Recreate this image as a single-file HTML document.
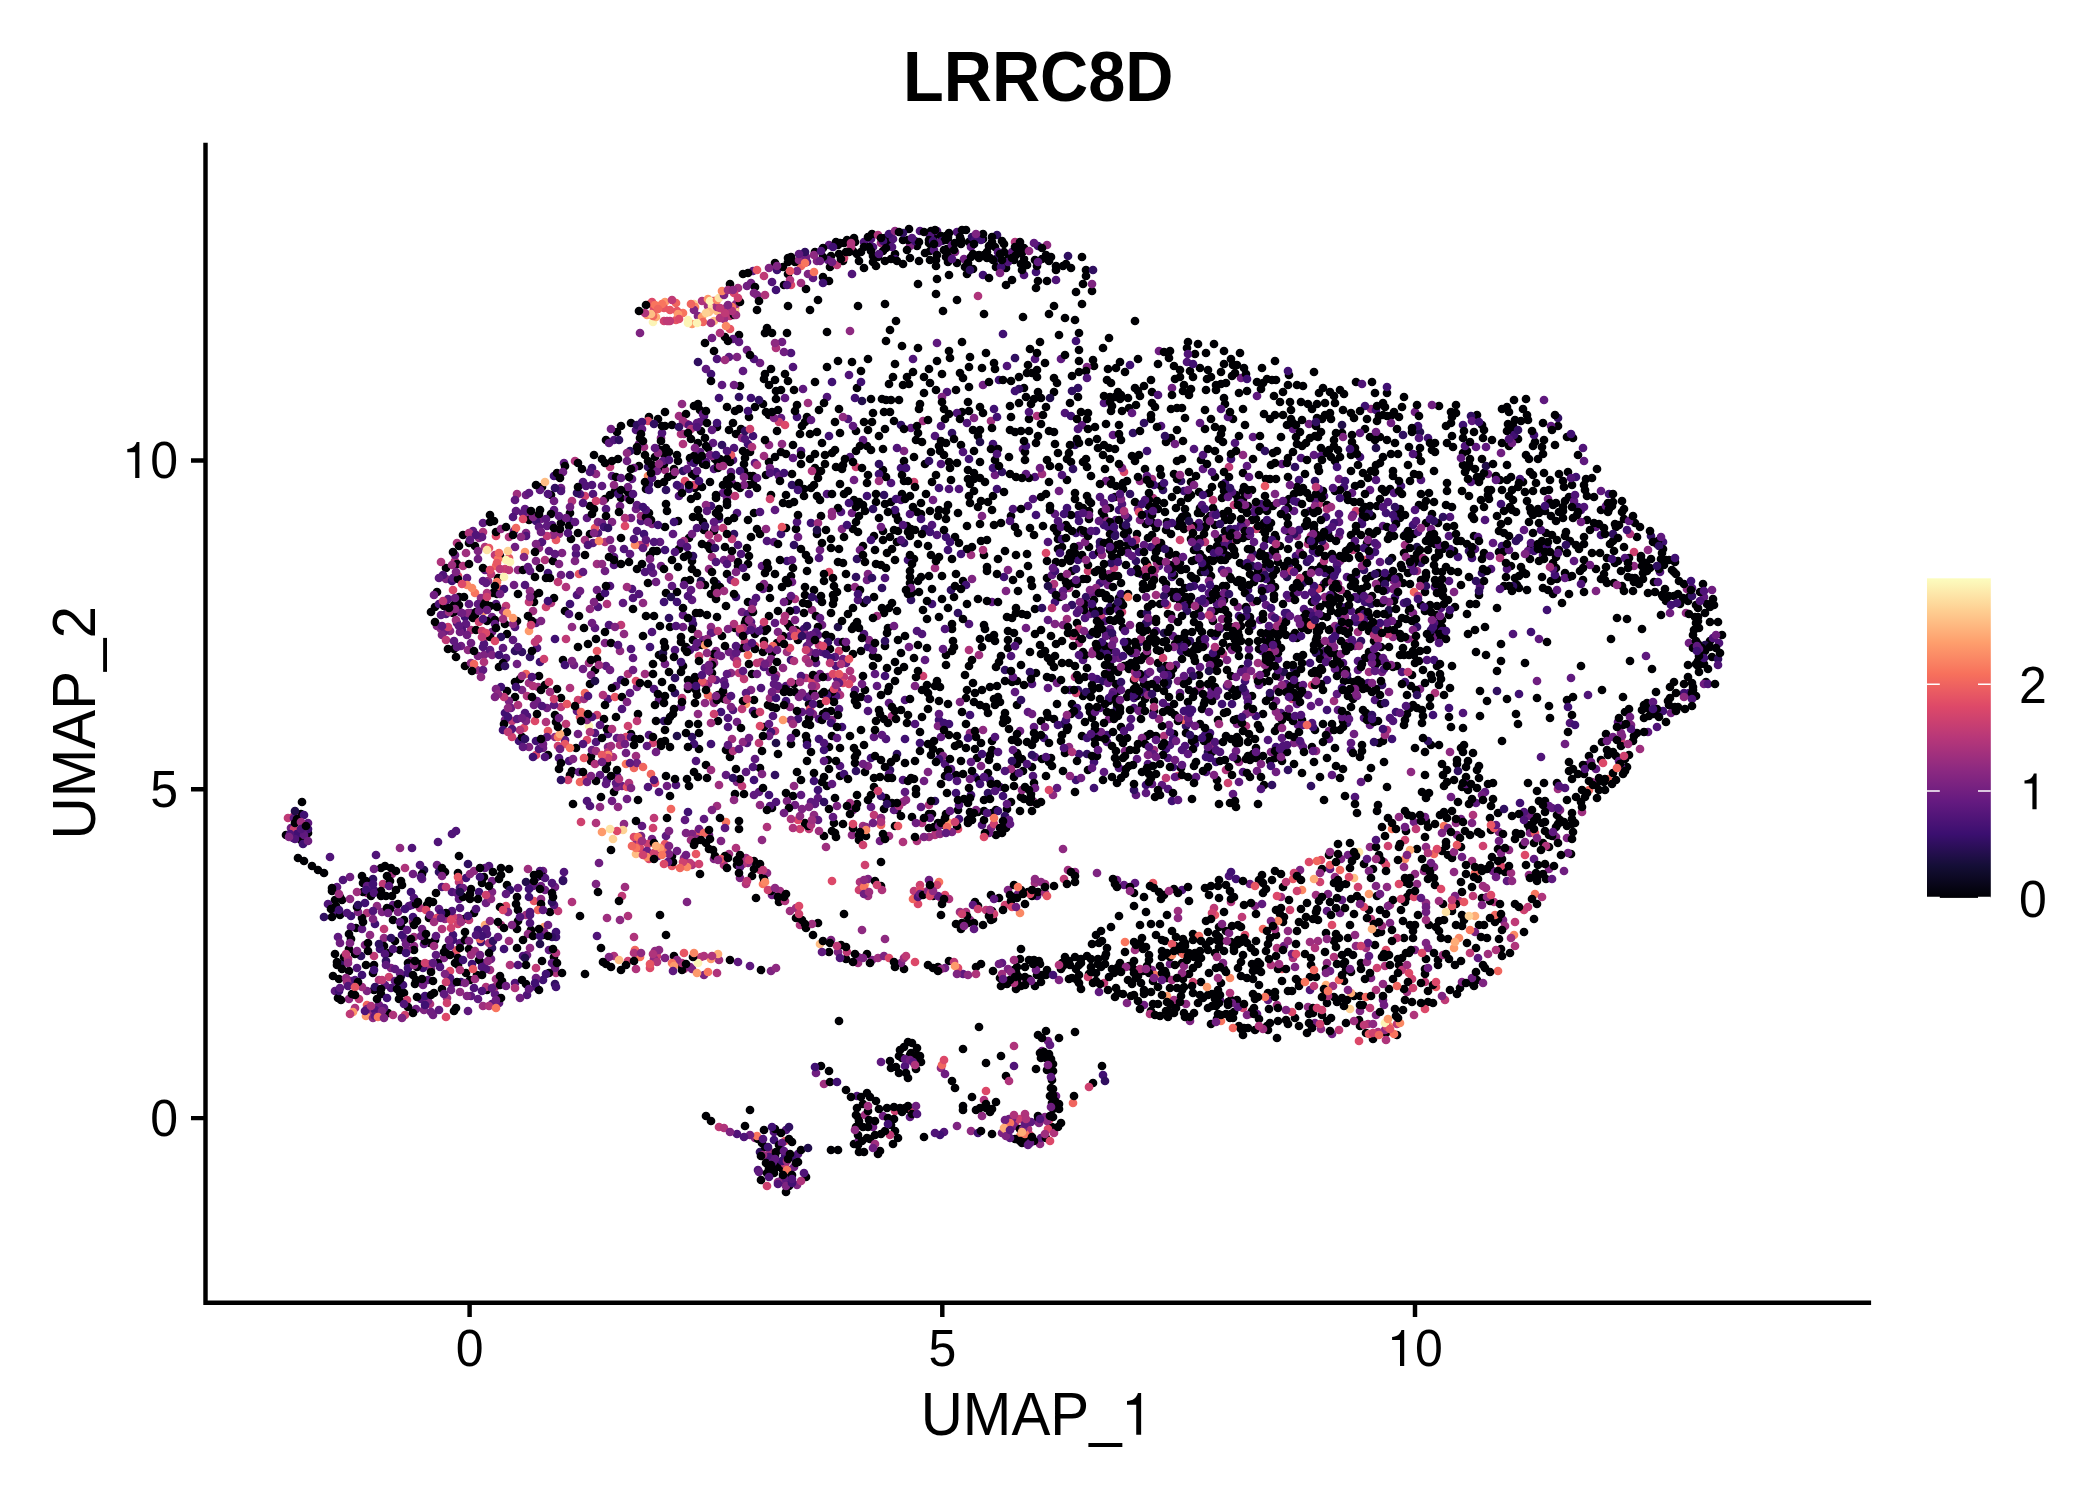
<!DOCTYPE html>
<html><head><meta charset="utf-8">
<style>
html,body{margin:0;padding:0;background:#fff;}
body{width:2100px;height:1500px;overflow:hidden;font-family:"Liberation Sans",sans-serif;}
svg{display:block}
text{font-family:"Liberation Sans",sans-serif;fill:#000}
</style></head><body>
<svg width="2100" height="1500" viewBox="0 0 2100 1500">
<defs>
<linearGradient id="mg" x1="0" y1="1" x2="0" y2="0">
<stop offset="0" stop-color="#000004"/><stop offset="0.1" stop-color="#140E36"/><stop offset="0.2" stop-color="#3B0F70"/><stop offset="0.3" stop-color="#641A80"/><stop offset="0.4" stop-color="#8C2981"/><stop offset="0.5" stop-color="#B73779"/><stop offset="0.6" stop-color="#DE4968"/><stop offset="0.7" stop-color="#F7705C"/><stop offset="0.8" stop-color="#FE9F6D"/><stop offset="0.9" stop-color="#FECF92"/><stop offset="1" stop-color="#FCFDBF"/>
</linearGradient>
</defs>
<rect width="2100" height="1500" fill="#fff"/>
<text x="1038.3" y="101" font-size="70" font-weight="bold" text-anchor="middle" transform="translate(1038.3 0) scale(0.953 1) translate(-1038.3 0)">LRRC8D</text>
<g id="pts" fill="none" stroke-linecap="round" stroke-width="8.7">
<path stroke="#401072" d="M1100 546h0M1195 744h0M1103 1075h0M1076 533h0M1286 619h0M1130 365h0M411 892h0M1222 570h0M774 1140h0M1501 504h0M548 573h0M797 417h0M1225 483h0M1321 656h0M1097 679h0M1232 704h0M1396 712h0M1215 636h0M1326 517h0M1147 514h0M901 468h0M1401 486h0M819 599h0M1252 626h0M1248 590h0M1299 480h0M717 584h0M1663 542h0M798 719h0M1684 693h0M1310 663h0M1360 457h0M1463 425h0M1406 534h0M868 647h0M1245 681h0M1663 711h0M1147 674h0M1172 801h0M1184 491h0M1216 762h0M592 468h0M479 892h0M1609 494h0M1428 438h0M505 713h0M1166 749h0M423 968h0M1096 735h0M970 715h0M920 743h0M465 617h0M1044 738h0M1347 723h0M946 537h0M1344 487h0M975 777h0M905 739h0M999 380h0M519 741h0M466 878h0M1313 551h0M1226 555h0M956 793h0M540 662h0"/>
<path stroke="#e75664" d="M672 866h0M676 320h0M580 717h0M534 901h0M509 558h0M1364 560h0M579 574h0M785 1141h0"/>
<path stroke="#300f60" d="M1516 541h0M911 600h0M760 1152h0M1072 605h0M1253 554h0M925 529h0M1075 445h0M1163 490h0M1382 685h0M1190 641h0M1361 641h0M373 879h0M904 543h0M1005 670h0M1303 583h0M856 771h0M1086 597h0M555 984h0M996 259h0M1186 726h0M1651 536h0M1078 690h0M361 956h0M790 1170h0"/>
<path stroke="#fa8864" d="M1514 935h0M1020 1136h0M735 308h0"/>
<path stroke="#feac77" d="M1475 916h0M865 884h0"/>
<path stroke="#fd9a6b" d="M1369 894h0M484 611h0M692 324h0M1478 869h0M1167 996h0"/>
<path stroke="#6f1e80" d="M732 483h0M658 856h0M1079 546h0M1159 351h0M561 575h0M1488 474h0M742 612h0M1119 658h0M1280 677h0M1009 1119h0M543 871h0M486 903h0M1315 1023h0M665 664h0M983 385h0M637 687h0M1530 816h0M1340 913h0M737 722h0M883 1116h0M1493 871h0M1537 681h0M1289 598h0M460 612h0M772 895h0M471 613h0M816 1073h0M1548 499h0M924 781h0M995 475h0M1056 1096h0M1102 619h0M1501 453h0M1105 679h0M291 828h0M1461 819h0M1328 657h0M578 734h0M1415 412h0M1671 713h0M1276 701h0M1257 771h0M1048 1041h0M416 1009h0M1339 536h0M1383 1000h0M543 748h0"/>
<path stroke="#ce416f" d="M895 1111h0M546 607h0M512 737h0M856 467h0M585 496h0M914 482h0M713 660h0M1405 840h0M1020 1119h0M1621 740h0M389 977h0M1015 1123h0M1388 846h0M657 956h0M920 885h0M294 829h0"/>
<path stroke="#f8755e" d="M1535 894h0M475 593h0M663 851h0M939 882h0"/>
<path stroke="#501478" d="M841 512h0M1131 719h0M786 686h0M1085 618h0M537 648h0M791 353h0M864 242h0M598 607h0M749 494h0M937 535h0M1035 477h0M609 625h0M734 448h0M827 397h0M1347 577h0M1289 567h0M756 598h0M827 494h0M1281 713h0M1228 516h0M1325 651h0M932 525h0M457 623h0M1480 587h0M1083 660h0M391 988h0M1107 742h0M748 614h0M945 764h0M733 710h0M552 525h0M1148 764h0M1182 890h0M1449 536h0M1229 876h0M782 1180h0M1196 691h0M570 575h0M1052 590h0M871 239h0M1159 566h0M649 735h0M636 430h0M1543 555h0M598 533h0M1362 520h0M840 766h0M917 631h0M421 982h0M1375 700h0M1570 723h0M641 521h0M1243 772h0M632 589h0M515 983h0M1297 695h0M903 780h0M1033 776h0M608 699h0M885 578h0M738 545h0M1310 511h0"/>
<path stroke="#af347b" d="M367 913h0M922 823h0M795 599h0M746 884h0M1037 416h0M471 630h0M761 662h0M628 674h0M572 501h0M455 561h0M515 988h0M978 296h0M917 841h0M1376 990h0M1226 770h0M806 678h0M724 865h0M683 444h0M1473 815h0M1414 639h0M934 234h0M603 695h0M1368 1024h0M1293 958h0M556 973h0M1334 957h0"/>
<path stroke="#8e2a81" d="M590 609h0M970 733h0M477 670h0M659 950h0M384 938h0M941 1068h0M539 548h0M481 598h0M527 515h0M982 1116h0M906 800h0M450 631h0M414 946h0M541 899h0M1317 609h0M637 842h0M555 737h0M1327 963h0M479 538h0M349 999h0M1686 613h0M377 906h0M1456 823h0M1338 584h0M768 663h0M518 570h0M1600 781h0M1426 847h0M1426 903h0M441 629h0M1239 762h0M1200 687h0M1393 637h0M708 684h0"/>
<path stroke="#210e4a" d="M1164 633h0M701 581h0M1342 425h0M424 870h0M1208 752h0M1222 538h0M1420 432h0M526 882h0"/>
<path stroke="#9e2f7e" d="M687 424h0M526 915h0M1157 563h0M1174 1000h0M589 663h0M863 826h0M392 874h0M881 243h0M644 447h0M369 1014h0M935 568h0M665 470h0M1154 750h0M858 963h0M1558 789h0M725 696h0M641 516h0M770 1152h0M923 421h0M787 652h0M1079 643h0M1035 883h0M1366 948h0M960 912h0M528 869h0M679 416h0M746 858h0M1358 632h0"/>
<path stroke="#000004" d="M1270 1023h0M904 461h0M673 475h0M772 653h0M1047 677h0M594 509h0M363 883h0M853 529h0M863 505h0M308 833h0M1237 695h0M1089 519h0M896 1067h0M1563 481h0M1035 986h0M1134 961h0M1633 591h0M434 993h0M1261 633h0M1271 523h0M1228 615h0M1377 656h0M1405 882h0M1452 666h0M1252 696h0M1423 716h0M1663 597h0M992 242h0M1473 753h0M1343 410h0M1497 671h0M1017 764h0M484 877h0M1152 586h0M991 920h0M1185 943h0M1114 973h0M946 257h0M831 711h0M1190 371h0M1535 442h0M1144 684h0M1291 410h0M1174 889h0M1365 429h0M1110 599h0M966 698h0M1439 685h0M470 980h0M1254 1008h0M1319 652h0M1283 632h0M1456 925h0M892 603h0M1361 969h0M1321 668h0M1237 737h0M789 1186h0M1395 1009h0M1434 630h0M1430 443h0M1117 558h0M842 469h0M1383 996h0M673 862h0M836 467h0M685 649h0M1198 649h0M743 451h0M1231 359h0M769 588h0M1271 582h0M1147 736h0M1325 403h0M1218 990h0M1050 1096h0M1325 952h0M1185 946h0M678 521h0M1512 490h0M929 814h0M1219 898h0M1316 977h0M917 1055h0M1558 426h0M1156 774h0M1462 892h0M819 410h0M791 576h0M822 602h0M1572 819h0M1118 691h0M695 488h0M1369 652h0M1478 879h0M1181 570h0M1472 516h0M710 482h0M691 439h0M1369 910h0M917 246h0M897 810h0M1622 586h0M1479 925h0M1587 496h0M728 521h0M507 634h0M362 918h0M562 973h0M864 745h0M1208 1008h0M1038 392h0M988 502h0M1537 904h0M1452 507h0M1167 593h0M1219 927h0M1011 802h0M898 640h0M1170 988h0M1289 900h0M477 975h0M930 251h0M947 793h0M1543 588h0M1479 595h0M1250 617h0M967 604h0M590 506h0M828 760h0M1310 438h0M1481 477h0M1597 783h0M1121 395h0M885 646h0M844 243h0M1070 965h0M1052 1080h0M1123 628h0M1258 725h0M809 704h0M1043 415h0M823 714h0M1257 382h0M1543 454h0M821 516h0M1082 736h0M1116 368h0M986 353h0M1477 415h0M1400 634h0M1231 579h0M986 1063h0M1601 510h0M824 777h0M717 427h0M1501 661h0M1154 711h0M836 761h0M1420 448h0M1098 570h0M1635 523h0M1530 559h0M515 697h0M1276 676h0M978 812h0M949 462h0M666 776h0M1101 967h0M763 652h0M1226 931h0M1024 259h0M349 949h0M1209 895h0M730 284h0M414 950h0M1183 939h0M542 487h0M694 772h0M1087 579h0M957 463h0M1441 938h0M995 641h0M829 769h0M1344 981h0M1244 565h0M1383 741h0M1250 574h0M1266 566h0M1047 561h0M1698 661h0M1329 574h0M1329 642h0M1415 644h0M1137 569h0M1613 494h0M711 594h0M1401 638h0M1308 627h0M1175 946h0M1230 647h0M667 818h0M928 693h0M1359 612h0M482 883h0M1704 664h0M792 1142h0M838 1150h0M1567 553h0M850 736h0M895 1131h0M638 714h0M1182 963h0M1313 510h0M1140 925h0M1381 647h0M1332 554h0M980 1108h0M1014 786h0M1014 970h0M1128 544h0M639 466h0M987 258h0M1017 753h0M814 485h0M857 705h0M1623 725h0M1015 1139h0M1019 403h0M1268 668h0M1167 978h0M1217 780h0M1215 477h0M339 979h0M1032 745h0M980 524h0M698 682h0M1181 952h0M1191 539h0M1525 492h0M1166 974h0M1439 551h0M726 750h0M1521 567h0M617 432h0M764 727h0M883 531h0M1412 1002h0M821 1066h0M1273 506h0M1034 535h0M912 593h0M878 257h0M1214 344h0M534 595h0M1456 819h0M1110 673h0M1145 699h0M1201 460h0M718 721h0M741 429h0M1462 915h0M1338 671h0M1517 585h0M459 597h0M1135 546h0M1322 670h0M1377 896h0M1456 534h0M807 741h0M1171 534h0M301 840h0M1059 1038h0M939 510h0M1666 560h0M1024 388h0M889 244h0M1194 622h0M890 246h0M631 734h0M1019 977h0M790 692h0M752 674h0M1211 633h0M1103 780h0M1443 590h0M1128 642h0M1106 954h0M1075 882h0M843 261h0M1442 620h0M1351 972h0M1606 734h0M1583 580h0M745 1126h0M1311 958h0M578 533h0M1499 552h0M1208 932h0M1491 830h0M880 777h0M1021 890h0M807 417h0M1710 641h0M1283 392h0M598 892h0M1363 473h0M355 954h0M779 1145h0M1326 603h0M470 899h0M1706 682h0M1141 614h0M1192 741h0M1615 563h0M934 236h0M687 779h0M1617 618h0M1225 520h0M1563 507h0M718 464h0M1233 1018h0M1443 549h0M945 776h0M1054 528h0M445 872h0M1464 920h0M1008 640h0M1283 922h0M911 529h0M1451 423h0M1070 553h0M1294 693h0M561 698h0M494 521h0M349 971h0M1439 745h0M776 708h0M594 455h0M550 912h0M485 603h0M1531 547h0M831 256h0M880 1151h0M1106 424h0M831 1150h0M726 606h0M507 885h0M764 379h0M954 597h0M1398 624h0M1012 682h0M779 902h0M1278 647h0M1140 943h0M700 410h0M1260 447h0M737 860h0M867 446h0M793 445h0M824 836h0M970 484h0M897 611h0M591 756h0M1712 657h0M1351 899h0M1625 712h0M474 913h0M1231 739h0M1627 767h0M1461 748h0M1497 516h0M1278 562h0M832 697h0M1379 855h0M1221 983h0M1567 826h0M1381 681h0M1343 721h0M1265 640h0M961 445h0M351 939h0M785 689h0M910 1055h0M958 810h0M991 895h0M1021 665h0M392 896h0M1162 995h0M891 400h0M1172 497h0M1511 430h0M990 687h0M1034 783h0M1447 527h0M961 240h0M1653 542h0M1011 516h0M886 798h0M1480 691h0M1664 565h0M796 529h0M1351 413h0M1389 647h0M1484 581h0M1000 978h0M1039 961h0M735 794h0M1127 697h0M858 1117h0M1394 412h0M948 608h0M531 930h0M878 1154h0M606 440h0M1275 871h0M1059 335h0M738 562h0M1332 724h0M430 943h0M1658 541h0M318 870h0M749 485h0M670 747h0M690 580h0M1426 501h0M1409 953h0M691 499h0M703 522h0M1200 640h0M928 744h0M973 683h0M1112 650h0M879 1109h0M1152 535h0M1455 607h0M833 595h0M1355 486h0M1107 651h0M930 699h0M1368 778h0M1038 436h0M1116 684h0M1275 731h0M1096 981h0M1366 579h0M1089 547h0M1647 571h0M1618 561h0M810 725h0M1302 446h0M1545 801h0M1378 573h0M1098 628h0M772 808h0M1166 666h0M689 538h0M1508 521h0M914 559h0M1357 813h0M1251 948h0M1302 773h0M876 1101h0M1201 572h0M1236 645h0M1334 997h0M936 390h0M1413 705h0M987 252h0M615 491h0M1062 547h0M602 459h0M1508 424h0M1205 888h0M464 919h0M493 593h0M973 430h0M1666 601h0M1302 720h0M1242 669h0M1572 485h0M1484 473h0M774 1173h0M1252 623h0M1207 658h0M664 464h0M1685 709h0M1077 623h0M518 910h0M738 566h0M947 249h0M1581 802h0M435 607h0M1144 994h0M1703 584h0M891 502h0M1260 556h0M1547 642h0M475 546h0M730 757h0M775 457h0M1587 520h0M782 1167h0M1467 544h0M719 509h0M1228 556h0M1565 536h0M1446 639h0M870 1139h0M1450 990h0M1022 253h0M1614 583h0M668 477h0M1116 988h0M540 568h0M1088 413h0M565 611h0M356 928h0M1674 682h0M1047 578h0M1106 598h0M1472 887h0M1634 736h0M1351 586h0M856 431h0M1569 497h0M856 522h0M1460 988h0M1288 458h0M852 629h0M1629 709h0M1264 785h0M1578 455h0M1559 474h0M915 761h0M1299 686h0M1009 257h0M1373 869h0M637 451h0M1223 643h0M1249 734h0M962 712h0M1504 586h0M1275 758h0M854 748h0M1155 558h0M1072 571h0M588 644h0M1277 1038h0M1214 669h0M1348 938h0M695 703h0M1438 637h0M1519 576h0M1149 573h0M1308 404h0M1320 607h0M1511 477h0M1015 774h0M1507 465h0M747 548h0M779 895h0M1556 557h0M1443 596h0M1208 995h0M1412 432h0M861 697h0M1028 365h0M908 481h0M1029 478h0M1005 551h0M1111 411h0M1298 568h0M1147 768h0M1336 908h0M930 511h0M1119 598h0M830 649h0M994 363h0M855 242h0M1115 497h0M1111 480h0M1252 520h0M1231 676h0M1035 739h0M640 739h0M466 973h0M841 945h0M1331 629h0M1196 579h0M902 494h0M541 904h0M1506 577h0M1215 451h0M961 929h0"/>
<path stroke="#bf3a76" d="M469 920h0M682 698h0M512 721h0M566 724h0M775 731h0M704 683h0M288 818h0M506 606h0M1079 629h0M1319 504h0M610 467h0M739 673h0M536 968h0M459 882h0M1114 568h0M535 642h0M495 555h0M566 639h0"/>
<path stroke="#dc4869" d="M1309 862h0M535 721h0M812 680h0M655 783h0M458 576h0M587 740h0M918 904h0M694 485h0M791 285h0M1386 950h0M506 906h0"/>
<path stroke="#fed194" d="M735 311h0"/>
<path stroke="#5f197e" d="M1109 667h0M351 927h0M335 991h0M1136 795h0M1015 692h0M385 985h0M600 775h0M807 262h0M1013 750h0M1247 697h0M1311 706h0M337 887h0M1216 696h0M602 486h0M1143 679h0M1485 792h0M1308 695h0M692 600h0M1358 670h0M963 974h0M818 798h0M753 271h0M746 772h0M1153 754h0M750 966h0M1551 426h0M525 509h0M587 518h0M1028 712h0M683 615h0M1383 526h0M660 542h0M536 623h0M863 440h0M1646 656h0M1176 665h0M609 443h0M1574 501h0M549 950h0M466 624h0M1104 772h0M1315 500h0M1704 597h0M448 599h0M992 602h0M540 490h0M614 557h0M393 905h0M774 684h0M911 428h0M565 740h0M1124 885h0M762 566h0M846 663h0M499 1003h0M775 510h0M1282 464h0M1549 806h0M1135 883h0M1544 400h0M452 984h0M780 1166h0M1152 784h0M759 792h0"/>
<path stroke="#7e2481" d="M1008 969h0M960 702h0M484 655h0M842 529h0M1376 1015h0M1277 689h0M358 912h0M1475 932h0M740 878h0M751 690h0M1499 832h0M398 912h0M1008 890h0M737 782h0M605 643h0M365 945h0M1237 724h0M1420 689h0M1229 933h0M1328 894h0M1190 1021h0M716 651h0M868 574h0M1238 607h0M1014 1126h0M714 859h0M1109 719h0M509 701h0M1142 738h0M957 1126h0M1556 837h0M1434 867h0M665 958h0M529 747h0M910 246h0M526 533h0M1055 624h0M828 677h0M1393 589h0M508 912h0M698 316h0M1097 873h0M832 720h0"/>
<path stroke="#f0665f" d="M367 1005h0M1183 954h0M1475 873h0M1589 790h0M942 1065h0M913 899h0"/>
<path stroke="#febe85" d="M636 854h0M717 311h0M545 482h0"/>
<path stroke="#bf3a76" d="M1234 505h0M383 884h0M1064 879h0M1371 919h0M1104 983h0M1205 542h0M1459 901h0M558 911h0M1214 908h0M914 891h0M890 1135h0M374 956h0M1425 982h0M730 316h0M1388 634h0"/>
<path stroke="#9e2f7e" d="M1390 905h0M1045 884h0M509 941h0M1405 545h0M892 716h0M719 960h0M936 831h0M729 854h0M483 1006h0M636 756h0M414 937h0M1257 677h0M1483 886h0M1135 950h0M865 1115h0M1281 897h0M1369 672h0M780 891h0M529 683h0M776 675h0M712 557h0M796 908h0M708 306h0M1069 588h0M533 611h0M367 893h0M466 553h0"/>
<path stroke="#8e2a81" d="M1371 409h0M1687 589h0M1265 665h0M528 934h0M866 827h0M852 835h0M1308 1007h0M1251 558h0M885 939h0M655 951h0M559 534h0M1325 597h0M1093 651h0M903 802h0M468 613h0M1315 506h0M620 920h0M971 1131h0M459 918h0M488 581h0M1276 712h0M970 920h0M736 304h0M474 871h0M1634 566h0M649 479h0M714 663h0M1075 872h0M731 673h0M1332 643h0M1034 802h0M1321 1029h0M769 445h0M812 610h0M731 558h0M624 824h0"/>
<path stroke="#af347b" d="M903 842h0M684 969h0M1385 966h0M551 603h0M785 901h0M1494 902h0M607 604h0M510 965h0M1232 541h0M1308 544h0M702 301h0M572 902h0M575 461h0M1542 897h0M379 980h0M1025 1114h0M966 912h0M485 547h0M692 865h0M1014 1046h0M806 659h0M1325 546h0"/>
<path stroke="#5f197e" d="M781 418h0M471 996h0M617 738h0M1324 584h0M1002 963h0M1241 672h0M1257 396h0M1539 639h0M729 357h0M1476 803h0M1247 466h0M647 854h0M700 452h0M828 260h0M1618 722h0M486 583h0M1319 702h0M1294 511h0M564 463h0M468 1011h0M813 278h0M1113 435h0M1187 604h0M816 663h0M691 462h0M533 886h0M874 737h0M763 628h0M937 343h0M941 737h0M731 472h0M1370 725h0M495 994h0M1257 1014h0M853 426h0M483 581h0M1233 794h0M517 719h0M459 899h0M1048 620h0M894 810h0M1370 490h0M492 1004h0M523 513h0M1621 767h0M633 658h0M422 879h0M1246 670h0M1269 636h0M577 711h0M1099 992h0M829 245h0M424 944h0M436 955h0M1342 900h0M818 635h0M1196 777h0M807 646h0M746 693h0M802 712h0M460 943h0M1596 769h0M428 980h0M1113 692h0"/>
<path stroke="#fcf4b6" d="M653 322h0"/>
<path stroke="#6f1e80" d="M1066 608h0M455 555h0M634 468h0M1059 491h0M545 890h0M1613 737h0M611 429h0M1172 388h0M1704 684h0M537 701h0M747 286h0M445 631h0M784 352h0M1106 481h0M822 625h0M782 342h0M622 786h0M820 550h0M1093 594h0M517 664h0M1433 637h0M1020 731h0M873 1127h0M1348 855h0M843 659h0M1042 1051h0M1309 424h0M378 1014h0M505 720h0M462 613h0M652 839h0M1482 795h0M1108 585h0M351 981h0M491 959h0M527 955h0M379 1005h0M437 865h0M515 547h0M541 886h0M703 640h0M1339 479h0M1426 907h0"/>
<path stroke="#feac77" d="M485 925h0M1326 985h0M718 954h0M656 317h0"/>
<path stroke="#7e2481" d="M1371 978h0M1127 1003h0M1360 1011h0M492 892h0M858 957h0M1263 572h0M641 836h0M1369 871h0M1294 743h0M1341 859h0M991 828h0M1130 625h0M1567 838h0M444 958h0M704 975h0M1277 503h0M1125 751h0M1348 643h0M791 720h0M1503 920h0M596 884h0M817 261h0M1255 906h0M721 841h0M1355 646h0M872 960h0M431 969h0M1340 561h0M810 652h0M522 690h0M1251 671h0M692 969h0M446 579h0M1428 948h0M1549 869h0M808 274h0M813 714h0M1462 982h0"/>
<path stroke="#dc4869" d="M640 848h0M640 843h0M1245 935h0M958 829h0M1525 855h0M1399 884h0M1030 1135h0M496 536h0M1321 860h0M446 1017h0M636 681h0M1124 472h0"/>
<path stroke="#300f60" d="M693 624h0M890 770h0M1134 790h0M1718 659h0M1272 785h0M1263 598h0M510 890h0M1315 481h0M722 445h0M1421 563h0M675 693h0M885 641h0M1111 563h0M648 467h0M1103 650h0M343 963h0M1316 653h0M683 471h0M1294 669h0M1117 708h0M952 433h0M997 235h0M794 545h0M1311 786h0M958 613h0M1482 573h0M1090 635h0M882 588h0M692 737h0M1187 611h0"/>
<path stroke="#501478" d="M355 980h0M714 469h0M1333 559h0M523 956h0M1269 556h0M293 838h0M1441 608h0M654 542h0M1248 702h0M482 963h0M758 1170h0M577 595h0M1105 621h0M376 855h0M1037 896h0M527 995h0M1058 521h0M1028 506h0M839 709h0M421 999h0M1134 708h0M1191 671h0M1287 595h0M775 1165h0M595 733h0M1343 663h0M452 834h0M476 909h0M1014 1066h0M934 250h0M1435 587h0M639 594h0M753 711h0M688 596h0M1660 572h0M614 565h0M848 419h0M554 905h0M1340 532h0M412 848h0M947 392h0M957 232h0M793 367h0M1356 575h0M1245 692h0M1119 768h0M918 897h0M1262 651h0M737 513h0M409 906h0M1376 480h0M1035 757h0M1116 520h0M637 531h0M1368 683h0M1588 695h0M1070 690h0M747 743h0M850 457h0M1351 611h0M580 494h0M905 1066h0M622 709h0M489 866h0M617 776h0M569 761h0M838 642h0M1206 772h0M1185 515h0M733 460h0M1324 496h0"/>
<path stroke="#fa8864" d="M1325 993h0M648 476h0"/>
<path stroke="#401072" d="M570 521h0M644 534h0M1395 597h0M1285 613h0M971 795h0M939 720h0M1375 666h0M297 834h0M1121 594h0M754 780h0M915 241h0M453 935h0M1134 698h0M1036 272h0M1236 879h0M1140 642h0M776 472h0M1004 577h0M819 739h0M777 270h0M711 506h0M736 597h0M481 942h0M1341 617h0M1172 577h0M1079 715h0M1118 562h0M719 398h0M1100 583h0M791 660h0M692 620h0M554 476h0M1231 459h0M1222 704h0M1601 535h0M1181 651h0M748 444h0M1325 573h0M908 560h0M1458 557h0M804 629h0M1418 426h0M504 949h0M1239 616h0M1215 512h0M1376 410h0M1078 560h0M796 610h0M719 519h0M871 758h0M1067 508h0M308 829h0M1094 762h0M649 484h0M847 525h0M362 975h0M1123 656h0M1502 546h0"/>
<path stroke="#fde2a5" d="M712 306h0"/>
<path stroke="#e75664" d="M1215 915h0M595 528h0M597 651h0M565 744h0M1436 987h0M665 844h0M702 681h0M556 540h0M925 892h0M1153 883h0M651 855h0"/>
<path stroke="#fed194" d="M1469 916h0"/>
<path stroke="#210e4a" d="M776 743h0M1417 547h0M1705 645h0M1486 466h0M1284 672h0M1064 724h0M401 976h0"/>
<path stroke="#f8755e" d="M683 313h0M1392 829h0M763 884h0"/>
<path stroke="#f0665f" d="M496 566h0M634 768h0M526 674h0M801 266h0M635 950h0M676 303h0M1498 971h0M1608 779h0M671 809h0"/>
<path stroke="#fd9a6b" d="M708 299h0M783 720h0M602 832h0M711 959h0"/>
<path stroke="#ce416f" d="M578 700h0M1243 1008h0M1356 511h0M597 715h0M648 844h0M713 699h0M844 258h0M1483 846h0M505 569h0M653 743h0M1180 540h0M1212 913h0M839 651h0"/>
<path stroke="#000004" d="M389 953h0M1183 979h0M822 782h0M1038 1116h0M1259 1019h0M1340 606h0M1110 459h0M1452 436h0M1006 1076h0M692 629h0M1370 437h0M1404 655h0M1607 750h0M1247 978h0M1661 615h0M1334 440h0M983 239h0M1294 594h0M1275 361h0M1160 966h0M1552 535h0M1165 941h0M1532 810h0M723 485h0M1360 502h0M487 990h0M982 690h0M961 761h0M1589 756h0M1326 969h0M1215 525h0M1693 687h0M1310 977h0M653 551h0M1212 1006h0M952 1081h0M1331 653h0M1327 1021h0M786 1192h0M835 422h0M1307 1033h0M1403 1010h0M1675 562h0M1276 479h0M1414 534h0M1259 985h0M1573 697h0M984 555h0M714 351h0M1675 707h0M1089 501h0M740 386h0M655 457h0M1208 370h0M1037 975h0M902 475h0M857 388h0M1331 579h0M982 368h0M1567 700h0M693 838h0M1081 530h0M642 564h0M875 730h0M1109 448h0M1449 717h0M986 707h0M1651 559h0M1158 509h0M1519 588h0M1429 867h0M744 464h0M1166 678h0M1054 432h0M1684 584h0M1126 646h0M1584 485h0M767 563h0M1374 722h0M1411 559h0M732 551h0M1399 417h0M1047 713h0M1272 380h0M956 775h0M1646 563h0M914 457h0M1354 996h0M725 856h0M457 564h0M868 1111h0M1143 949h0M344 957h0M1371 576h0M652 465h0M1052 1103h0M1187 652h0M970 812h0M1116 486h0M963 1049h0M1360 1005h0M829 747h0M1137 534h0M1478 832h0M1463 465h0M1322 419h0M793 796h0M1418 455h0M1474 536h0M1409 611h0M1194 650h0M673 714h0M1053 1095h0M788 274h0M1377 933h0M1576 545h0M1083 652h0M1557 783h0M1461 541h0M1230 520h0M1056 266h0M1261 972h0M1312 602h0M1239 580h0M1275 552h0M794 502h0M1123 994h0M1232 517h0M760 768h0M1417 554h0M1447 491h0M1394 601h0M1189 974h0M454 1011h0M338 998h0M384 946h0M1186 569h0M1619 525h0M840 776h0M1177 567h0M1627 619h0M778 410h0M768 705h0M885 261h0M373 973h0M1108 990h0M806 1177h0M1632 578h0M606 964h0M692 561h0M1554 866h0M1404 938h0M1153 981h0M1075 493h0M871 450h0M1013 580h0M1426 541h0M1067 586h0M1575 823h0M896 719h0M788 381h0M1195 953h0M1330 902h0M992 1109h0M865 511h0M1160 795h0M836 242h0M501 868h0M1680 604h0M1375 393h0M765 573h0M719 516h0M1372 596h0M1487 938h0M1181 768h0M1616 780h0M940 752h0M769 1168h0M1463 728h0M1500 480h0M1266 656h0M1408 573h0M1470 604h0M1124 666h0M1075 499h0M1198 964h0M1356 572h0M1069 961h0M1193 993h0M895 711h0M1160 924h0M1088 770h0M809 718h0M1061 969h0M922 690h0M838 361h0M1124 551h0M1270 761h0M1539 561h0M1404 553h0M1438 960h0M722 636h0M912 817h0M694 683h0M1136 687h0M1275 535h0M1148 538h0M1155 407h0M1089 511h0M945 419h0M707 615h0M366 881h0M1021 797h0M861 371h0M1616 756h0M796 630h0M1087 956h0M962 923h0M427 905h0M1096 653h0M686 414h0M1346 551h0M734 518h0M1384 762h0M862 468h0M1305 954h0M1510 953h0M888 723h0M1437 606h0M1342 955h0M1377 421h0M1406 953h0M1140 674h0M570 513h0M1246 607h0M854 1144h0M1317 418h0M1469 496h0M1144 990h0M885 238h0M1621 571h0M1601 760h0M1207 562h0M1369 532h0M907 250h0M1151 778h0M941 784h0M1462 787h0M1171 615h0M1330 413h0M1288 385h0M374 990h0M916 1069h0M1501 644h0M996 1102h0M1570 541h0M1438 965h0M1256 758h0M967 916h0M902 1058h0M1167 522h0M1038 281h0M1153 1004h0M1381 932h0M1091 503h0M764 1130h0M1435 544h0M867 1093h0M431 612h0M971 815h0M1607 558h0M1321 588h0M1058 549h0M1001 1056h0M1515 839h0M368 951h0M1379 743h0M665 730h0M1168 1017h0M1085 677h0M1276 380h0M1259 475h0M1089 694h0M853 462h0M930 383h0M465 932h0M829 952h0M1213 661h0M1360 1026h0M1399 965h0M1288 508h0M992 813h0M823 257h0M1128 665h0M1467 451h0M1380 661h0M1399 577h0M969 666h0M839 409h0M1184 987h0M1472 983h0M1128 531h0M1112 969h0M643 636h0M858 306h0M968 803h0M1511 566h0M1209 569h0M917 1058h0M1175 644h0M1320 777h0M1138 976h0M863 1104h0M1458 572h0M1351 578h0M1184 385h0M1493 783h0M1118 672h0M572 771h0M1273 633h0M829 281h0M1224 600h0M895 254h0M975 902h0M1037 377h0M1470 835h0M815 454h0M679 549h0M904 969h0M1295 1018h0M678 964h0M1542 547h0M1160 1016h0M1187 348h0M1537 817h0M1312 747h0M1433 985h0M1380 910h0M874 778h0M1024 248h0M1336 934h0M431 972h0M1530 508h0M861 252h0M1238 944h0M388 1013h0M493 872h0M904 481h0M1688 601h0M400 950h0M1154 701h0M1054 886h0M1363 1005h0M902 346h0M1696 623h0M1448 855h0M1360 757h0M1135 321h0M570 775h0M1498 919h0M791 744h0M1518 487h0M951 480h0M1109 977h0M1584 544h0M908 1078h0M1444 786h0M1094 366h0M939 557h0M1388 539h0M693 517h0M1046 407h0M1705 651h0M1544 473h0M1581 666h0M701 431h0M637 569h0M1234 951h0M1447 443h0M391 868h0M1422 710h0M1488 784h0M899 400h0M1346 970h0M1630 661h0M1092 690h0M1238 500h0M1167 1002h0M1054 719h0M1132 967h0M1053 1071h0M1385 492h0M1273 550h0M1049 762h0M1248 707h0M301 814h0M1248 536h0M757 310h0M1485 968h0M1007 809h0M1363 510h0M646 616h0M946 511h0M961 244h0M1532 899h0M404 920h0M834 599h0M821 596h0M788 624h0M714 531h0M1699 672h0M919 261h0M895 662h0M646 517h0M1546 533h0M1319 393h0M1392 823h0M776 391h0M1193 578h0M1428 879h0M1299 1006h0M737 865h0M1010 255h0M999 898h0M913 1057h0M1340 778h0M897 542h0M1509 412h0M649 513h0M1020 574h0M1276 910h0M895 364h0M505 624h0M1102 593h0M1483 569h0M1409 447h0M1266 561h0M1313 1008h0M1349 629h0M815 252h0M1563 518h0M931 231h0M885 767h0M1324 800h0M1360 996h0M1159 892h0M1315 436h0M1361 900h0M1610 544h0M1021 949h0M1047 281h0M1314 525h0M1357 454h0M1194 783h0M1073 646h0M800 434h0M715 588h0M536 485h0M996 835h0M739 335h0M1172 395h0M715 856h0M968 820h0M1221 941h0M1462 491h0M1224 398h0M990 258h0M933 968h0M1266 479h0M1182 517h0M777 643h0M718 695h0M810 434h0M1148 685h0M1205 429h0M1340 664h0M695 476h0M1231 1000h0M1397 513h0M1301 669h0M796 733h0M835 798h0M980 462h0M1156 622h0M1376 465h0M1166 530h0M859 1152h0M569 526h0M573 804h0M1127 738h0M1234 1012h0M885 304h0M1075 792h0M1202 709h0M1239 743h0M1472 799h0M1241 626h0M446 568h0M1322 616h0M825 464h0M1338 844h0M957 826h0M580 916h0M1218 886h0M1312 409h0M1258 570h0M1219 880h0M983 413h0M1637 733h0M908 240h0M1188 342h0M614 792h0M1390 489h0M342 969h0M718 468h0M1281 908h0M1406 831h0M786 894h0M838 508h0M1296 437h0M1040 1053h0M604 719h0M1700 592h0M1509 536h0M1648 593h0M1153 523h0M1421 494h0M908 1042h0M1158 364h0M1549 847h0M789 504h0M1490 901h0M1426 798h0M1231 942h0M654 843h0M699 749h0M1014 777h0M1282 761h0M1564 487h0M1207 519h0M1505 872h0M1181 996h0M1226 595h0M1015 432h0M683 666h0M661 742h0M1530 829h0M1320 644h0M1329 855h0M740 488h0M1008 648h0M393 920h0M1020 959h0M1147 588h0M1475 469h0M805 422h0M1125 756h0M560 529h0M1216 555h0M498 578h0M1457 764h0M760 534h0M1624 591h0M1253 971h0M1323 491h0M911 1053h0M822 694h0M1260 964h0M1410 893h0M1240 353h0M1657 709h0M666 935h0M1219 663h0M1200 724h0M1119 520h0M1448 939h0M997 686h0M808 604h0M972 771h0M903 264h0M1312 1028h0M1386 1033h0M1215 611h0M621 538h0M1097 634h0M1161 543h0M1058 539h0M1452 911h0M936 260h0M401 881h0M1180 949h0M697 573h0M1199 675h0M672 856h0M746 620h0M767 328h0M929 243h0M1439 406h0M1189 953h0M1217 1019h0M517 929h0"/>
<path stroke="#210e4a" d="M540 944h0M1376 448h0"/>
<path stroke="#f8755e" d="M640 957h0M1221 1021h0M1444 826h0"/>
<path stroke="#f0665f" d="M480 939h0M881 825h0M1183 720h0M538 910h0M581 712h0M1263 929h0M651 774h0"/>
<path stroke="#6f1e80" d="M597 590h0M1170 964h0M1405 827h0M555 887h0M734 657h0M727 498h0M1117 880h0M1150 672h0M1241 378h0M1380 894h0M605 571h0M964 259h0M837 691h0M1144 1005h0M1382 672h0M547 708h0M1032 714h0M1384 1005h0M683 627h0M1289 709h0M1169 725h0M770 672h0M639 444h0M1451 797h0M631 518h0M1138 509h0M1272 616h0M492 617h0M1426 912h0M636 509h0M820 261h0M561 488h0M555 968h0M760 363h0M583 669h0M541 519h0M916 823h0M970 779h0M724 560h0M433 1015h0M1670 613h0"/>
<path stroke="#ce416f" d="M800 829h0M1378 627h0M1005 905h0M1634 552h0M713 301h0M628 961h0M1358 887h0M645 544h0M1524 910h0M405 1015h0M1412 979h0M1167 605h0M1320 882h0M558 746h0M859 890h0"/>
<path stroke="#dc4869" d="M945 895h0M649 859h0M810 709h0M1318 589h0M1332 925h0M450 971h0M626 737h0M760 726h0M685 481h0M829 572h0M536 755h0M915 962h0M755 646h0"/>
<path stroke="#af347b" d="M935 835h0M840 695h0M566 587h0M570 688h0M1075 677h0M941 898h0M430 964h0M1054 584h0M969 650h0M545 560h0M899 806h0M430 1004h0M483 532h0M1164 736h0M1386 1040h0M1246 726h0M628 916h0M718 538h0M1153 498h0M348 959h0M605 542h0"/>
<path stroke="#febe85" d="M820 944h0M714 321h0"/>
<path stroke="#fa8864" d="M1459 938h0M1020 913h0M1389 1026h0"/>
<path stroke="#000004" d="M1283 887h0M591 761h0M1199 539h0M805 595h0M1131 663h0M1415 663h0M1170 628h0M987 540h0M475 615h0M1549 706h0M1198 344h0M1177 988h0M864 268h0M974 702h0M1556 521h0M1134 893h0M1474 432h0M688 680h0M1303 386h0M1551 581h0M1454 551h0M1318 511h0M1104 723h0M1250 777h0M340 897h0M1029 960h0M865 772h0M1423 586h0M1049 314h0M1128 980h0M884 613h0M975 749h0M1032 811h0M1206 353h0M1012 280h0M453 613h0M1316 640h0M605 463h0M1444 633h0M860 446h0M1212 752h0M1292 991h0M1602 690h0M1104 564h0M1425 775h0M936 294h0M1322 869h0M932 589h0M646 489h0M775 263h0M1052 1127h0M1268 1030h0M390 881h0M554 598h0M1243 538h0M1567 800h0M1089 974h0M677 455h0M1079 361h0M946 655h0M534 602h0M1461 882h0M949 961h0M582 469h0M1637 537h0M1425 752h0M1183 949h0M826 712h0M817 496h0M1553 505h0M1082 304h0M864 603h0M1297 487h0M1168 614h0M1056 270h0M959 543h0M1569 577h0M1135 502h0M575 706h0M1258 804h0M1335 461h0M888 628h0M1145 469h0M1288 531h0M1351 455h0M788 258h0M886 341h0M873 656h0M874 536h0M788 601h0M1305 474h0M677 592h0M1007 617h0M522 737h0M1123 489h0M1230 803h0M1276 538h0M1117 619h0M946 519h0M1194 657h0M1156 935h0M937 361h0M1028 892h0M764 641h0M908 781h0M1566 532h0M978 599h0M1225 531h0M1104 516h0M919 242h0M1339 888h0M1482 425h0M561 523h0M1113 531h0M1269 662h0M1705 613h0M857 804h0M1014 633h0M1512 816h0M1115 884h0M1086 270h0M465 666h0M1523 845h0M1146 524h0M745 623h0M1275 992h0M770 598h0M1432 450h0M989 638h0M1366 1033h0M563 660h0M1066 525h0M1339 938h0M1061 1123h0M949 252h0M1071 714h0M1051 636h0M1226 383h0M944 455h0M672 425h0M1077 584h0M1108 369h0M932 814h0M706 1116h0M496 532h0M1633 741h0M1559 550h0M1387 578h0M1463 822h0M880 714h0M479 960h0M1047 1070h0M1243 499h0M1442 764h0M765 374h0M871 399h0M708 448h0M1407 714h0M772 333h0M1238 940h0M853 962h0M1100 484h0M775 1156h0M783 1170h0M1121 727h0M899 1056h0M1218 720h0M894 1107h0M1149 774h0M1011 901h0M1335 403h0M771 891h0M1216 589h0M1260 729h0M1544 491h0M772 707h0M1031 798h0M1324 989h0M1009 729h0M1147 692h0M1255 739h0M1191 597h0M1092 685h0M1054 378h0M1290 402h0M981 541h0M805 823h0M442 989h0M1442 851h0M1285 716h0M542 961h0M507 691h0M1408 465h0M1237 540h0M1426 576h0M949 275h0M1244 905h0M453 552h0M730 462h0M1328 533h0M1557 579h0M1434 878h0M1006 828h0M1543 805h0M1225 560h0M806 289h0M767 629h0M1383 457h0M1358 465h0M1367 918h0M1053 1109h0M1284 917h0M969 387h0M1056 562h0M1611 639h0M1164 895h0M1109 701h0M1482 559h0M529 520h0M551 495h0M883 470h0M1127 648h0M974 923h0M763 404h0M1373 1039h0M855 763h0M605 632h0M920 1056h0M875 1135h0M795 262h0M1280 546h0M648 684h0M788 262h0M896 515h0M872 234h0M925 464h0M979 1027h0M1232 926h0M1428 991h0M1353 699h0M1174 598h0M895 560h0M1017 252h0M1269 681h0M1221 1015h0M706 765h0M1451 571h0M1435 885h0M712 673h0M1057 532h0M1041 654h0M1300 694h0M1178 893h0M1226 586h0M1435 452h0M840 748h0M658 449h0M1120 399h0M963 581h0M1291 419h0M727 480h0M458 965h0M1661 559h0M1334 596h0M1495 922h0M818 627h0M1592 478h0M748 273h0M1238 632h0M1055 444h0M1431 543h0M1393 471h0M1152 583h0M943 311h0M765 631h0M1286 1020h0M1120 544h0M1115 670h0M1713 599h0M890 1061h0M712 665h0M658 419h0M1096 973h0M801 464h0M873 413h0M1118 716h0M927 648h0M1374 924h0M1720 653h0M1481 937h0M1447 818h0M1115 997h0M1173 669h0M1587 793h0M1130 750h0M1276 570h0M1053 1089h0M1083 696h0M1165 670h0M1362 589h0M1383 403h0M1275 463h0M1361 535h0M950 468h0M832 736h0M1181 592h0M1137 696h0M1146 947h0M1393 667h0M1427 650h0M1180 582h0M698 404h0M1482 898h0M838 245h0M1623 774h0M1336 541h0M578 463h0M1402 958h0M1442 627h0M1110 508h0M1220 761h0M969 496h0M1361 682h0M337 962h0M989 760h0M1657 544h0M710 549h0M415 984h0M1205 528h0M1553 594h0M1052 678h0M1012 618h0M1213 508h0M944 409h0M694 456h0M1165 971h0M1340 556h0M1629 558h0M1051 1059h0M897 803h0M1336 766h0M1435 824h0M846 959h0M1237 1000h0M523 570h0M1367 688h0M1382 489h0M1180 520h0M1244 938h0M1151 419h0M1718 622h0M694 406h0M763 876h0M1265 496h0M1311 965h0M435 940h0M881 760h0M933 896h0M357 907h0M1025 460h0M682 970h0M1474 509h0M845 459h0M454 649h0M820 500h0M818 923h0M1493 799h0M944 825h0M762 1143h0M833 578h0M1036 443h0M1267 931h0M1261 777h0M911 778h0M1400 518h0M1193 968h0M571 539h0M1289 717h0M433 981h0M1199 609h0M1034 960h0M1225 760h0M1112 406h0M1245 425h0M874 787h0M1663 549h0M1125 774h0M1218 1014h0M500 556h0M1388 615h0M1409 655h0M1224 969h0M1213 621h0M1017 982h0M936 266h0M1190 653h0M1403 583h0M1185 588h0M1652 669h0M1095 427h0M970 798h0M1477 770h0M1201 513h0M1109 542h0M1079 443h0M910 536h0M795 692h0M1267 633h0M815 658h0M1526 574h0M312 866h0M1268 993h0M890 330h0M1063 771h0M946 236h0M1340 490h0M1563 511h0M1171 675h0M873 666h0M921 514h0M1430 633h0M830 267h0M1350 925h0M1385 836h0M1425 837h0M1313 546h0M1232 689h0M848 614h0M1463 453h0M695 677h0M669 672h0M1397 666h0M1444 604h0M1465 472h0M618 459h0M686 647h0M556 722h0M690 458h0M1120 738h0M413 1013h0M1297 638h0M1527 501h0M794 684h0M1136 646h0M790 611h0M1361 593h0M611 967h0M1446 846h0M1037 598h0M923 610h0M495 620h0M1613 541h0M754 513h0M1412 675h0M1212 487h0M1046 255h0M952 559h0M823 248h0M804 496h0M831 613h0M1079 680h0M595 670h0M761 1180h0M1018 533h0M1335 748h0M585 974h0M1424 507h0M1550 503h0M1146 912h0M1299 986h0M769 462h0M1222 485h0M596 781h0M1404 725h0M1042 259h0M1321 432h0M1276 935h0M1615 524h0M1440 815h0M1655 592h0M693 640h0M1573 518h0M1085 722h0M1133 667h0M1689 597h0M1270 639h0M1344 558h0M948 240h0M1341 641h0M1666 722h0M1241 962h0M377 999h0M962 412h0M993 971h0M1312 570h0M633 609h0M1457 541h0M1283 415h0M1374 641h0M1365 658h0M919 592h0M1439 629h0M1322 498h0M1426 821h0M895 826h0M979 258h0M1005 681h0M1362 610h0M1281 437h0M1466 777h0M1082 555h0M736 434h0M821 471h0M1211 419h0M1293 636h0M713 850h0M1242 587h0M769 415h0M1247 391h0M1221 384h0M1290 676h0M1061 577h0M977 758h0M887 1108h0M878 658h0M1353 955h0M1281 648h0M818 300h0M1316 426h0M1507 699h0M931 555h0M853 251h0M1204 704h0M1654 582h0M1233 419h0M664 454h0M995 460h0M1369 616h0M1105 646h0M932 482h0M1487 701h0M703 464h0M433 902h0M1211 576h0M1634 582h0M1140 630h0M1608 755h0M1280 914h0M1407 695h0M1030 349h0M1096 935h0M1161 486h0M938 967h0M1538 459h0M1151 1011h0M727 868h0M1514 400h0M1348 680h0M1572 839h0M1385 407h0M1182 659h0M607 763h0M992 741h0M1289 375h0M972 820h0M1132 456h0M1051 257h0M962 230h0M1401 910h0M1429 793h0M894 421h0M1433 1003h0M1527 590h0M1315 730h0M889 608h0M765 1147h0M518 594h0M1650 568h0M1307 525h0M648 583h0M605 499h0M578 647h0M1340 730h0M1515 904h0M881 565h0M1127 550h0M1095 739h0M1327 505h0M621 498h0M401 926h0M881 862h0M1221 609h0M848 588h0"/>
<path stroke="#8e2a81" d="M530 948h0M1040 1144h0M742 438h0M596 474h0M413 922h0M1345 626h0M743 742h0M1450 752h0M490 921h0M1246 523h0M346 978h0M1415 874h0M711 543h0M1026 980h0M1297 536h0M1424 871h0M1047 245h0M1356 946h0M1345 617h0M572 627h0M1335 877h0M1096 588h0M1154 576h0M455 953h0M799 260h0M709 569h0M1212 618h0M755 1138h0M1648 550h0M445 919h0M654 959h0M1222 619h0M603 501h0"/>
<path stroke="#401072" d="M1003 796h0M789 1178h0M990 780h0M1228 541h0M1038 246h0M461 982h0M380 949h0M1093 555h0M1151 547h0M771 732h0M1413 525h0M529 897h0M1346 607h0M1079 754h0M1547 546h0M1442 631h0M1102 642h0M1612 559h0M1266 579h0M1194 586h0M1327 680h0M1296 556h0M711 744h0M1036 515h0M472 964h0M1076 341h0M1395 520h0M1575 725h0M981 240h0M1671 605h0M694 463h0M689 489h0M1164 483h0M966 585h0M1314 586h0M983 275h0M895 259h0M1472 558h0M1704 658h0M844 774h0M1689 693h0M1327 710h0M948 550h0M303 844h0M1578 507h0M1450 549h0M536 521h0M1124 642h0M453 940h0M375 924h0M776 290h0M1078 515h0M895 510h0M1356 622h0M650 647h0M1313 727h0M1267 589h0M842 727h0M1221 554h0M806 697h0M413 917h0M556 987h0M1449 708h0M811 523h0M1109 698h0M939 488h0"/>
<path stroke="#300f60" d="M901 425h0M1136 561h0M935 801h0M698 362h0M1005 816h0M1087 754h0M1076 569h0M1358 599h0M1347 675h0M552 902h0M1167 685h0M897 754h0M1100 542h0M988 793h0M1497 691h0M1147 613h0M857 559h0M439 872h0M1121 682h0M879 464h0M693 556h0M734 534h0M1222 543h0M375 987h0M1265 575h0M1128 518h0M1417 627h0M1265 451h0M1220 629h0M577 493h0M1471 416h0M630 451h0M1295 467h0M1513 586h0M1469 551h0"/>
<path stroke="#fcf4b6" d="M506 560h0M589 726h0M710 301h0"/>
<path stroke="#9e2f7e" d="M1258 663h0M495 987h0M717 307h0M1002 974h0M971 555h0M517 494h0M1219 724h0M1169 891h0M1250 1014h0M991 421h0M1068 870h0M456 620h0M584 699h0M496 979h0M1384 862h0M447 998h0M1225 539h0M793 724h0M1486 888h0M625 887h0M732 739h0M770 698h0M889 836h0M738 288h0M1316 895h0"/>
<path stroke="#bf3a76" d="M759 743h0M346 954h0M294 816h0M1229 467h0M744 679h0M1101 615h0M558 582h0M640 545h0M1397 938h0M809 829h0M485 637h0M1353 550h0"/>
<path stroke="#fd9a6b" d="M525 552h0M647 315h0M665 302h0M949 823h0"/>
<path stroke="#5f197e" d="M769 724h0M405 939h0M1335 669h0M1476 447h0M837 678h0M873 650h0M739 342h0M1298 725h0M1162 785h0M1110 629h0M1507 881h0M637 505h0M1285 530h0M943 649h0M1089 604h0M642 826h0M1104 580h0M871 807h0M384 1008h0M1552 808h0M528 567h0M490 650h0M1478 958h0M1083 533h0M543 910h0M1189 723h0M1281 752h0M1606 506h0M1203 469h0M784 1179h0M1034 727h0M1012 252h0M643 548h0M910 1117h0M1023 449h0M1128 553h0M483 523h0M483 670h0M666 836h0M791 596h0M1260 620h0M1330 869h0M294 818h0M1092 768h0M482 537h0M436 936h0M835 657h0M1253 437h0M389 886h0M755 463h0M1329 739h0M1439 545h0M659 700h0M506 894h0M779 476h0M1528 551h0M595 628h0M815 804h0M1157 680h0M775 623h0M811 802h0"/>
<path stroke="#501478" d="M1704 591h0M1305 595h0M935 436h0M606 509h0M1478 537h0M675 552h0M654 780h0M1187 362h0M1104 403h0M1319 489h0M343 880h0M659 792h0M330 857h0M1475 549h0M944 1132h0M1211 687h0M969 624h0M1199 523h0M1384 669h0M1315 601h0M1194 449h0M982 825h0M1024 275h0M1719 643h0M446 614h0M1692 588h0M1100 497h0M951 769h0M552 883h0M690 650h0M764 667h0M1402 672h0M1421 480h0M1301 458h0M1007 366h0M1033 499h0M822 652h0M624 549h0M798 1154h0M836 696h0M836 666h0M1463 713h0M1713 638h0M1471 482h0M754 359h0M1657 727h0M704 416h0M654 689h0M702 675h0M868 711h0M583 744h0M1127 538h0M696 761h0M1227 686h0M1565 788h0M375 1010h0M1122 504h0M1225 546h0M1170 745h0M412 905h0M536 987h0M774 1132h0M941 464h0M563 880h0M1708 684h0M385 954h0M1048 542h0M1449 581h0M1587 765h0M751 622h0M1364 718h0M442 887h0M1201 616h0M537 877h0M1035 359h0M443 575h0M1418 532h0M1235 443h0M1182 750h0M583 482h0M1100 708h0M1168 758h0M868 699h0M741 554h0M1337 565h0"/>
<path stroke="#feac77" d="M1351 993h0M1314 879h0"/>
<path stroke="#fed194" d="M694 304h0M1350 1009h0"/>
<path stroke="#e75664" d="M1172 944h0M696 854h0M548 731h0M698 832h0M627 787h0M1494 828h0M677 311h0"/>
<path stroke="#7e2481" d="M367 991h0M901 963h0M1530 833h0M955 252h0M1348 990h0M715 528h0M1390 923h0M357 951h0M802 693h0M1059 980h0M1002 1133h0M952 832h0M1300 552h0M1085 542h0M1271 752h0M1300 870h0M442 635h0M1045 1117h0M1408 639h0M904 451h0M1148 755h0M437 626h0M1631 725h0M1261 764h0M943 756h0M1472 823h0M524 557h0M541 621h0M1232 650h0M411 961h0M669 854h0M1140 520h0M598 522h0M424 1010h0M1246 714h0M1121 499h0M1376 886h0"/>
<path stroke="#fa8864" d="M1278 921h0M635 545h0M1405 859h0"/>
<path stroke="#6f1e80" d="M859 1140h0M1284 946h0M1689 643h0M945 1074h0M612 549h0M1425 817h0M514 531h0M422 929h0M574 665h0M945 968h0M1057 683h0M751 283h0M820 674h0M784 602h0M806 257h0M1630 717h0M560 749h0M647 851h0M492 632h0M628 498h0M1026 628h0M795 805h0M1018 894h0M794 1167h0M661 566h0M1353 515h0M721 656h0M602 523h0M933 500h0M1432 405h0M1329 731h0M1414 822h0M451 990h0M627 799h0M692 534h0M612 801h0M1431 529h0M461 646h0"/>
<path stroke="#8e2a81" d="M778 689h0M1022 790h0M1227 941h0M553 535h0M1063 849h0M855 587h0M1186 1004h0M1053 795h0M1121 667h0M587 720h0M503 611h0M501 529h0M1592 782h0M491 899h0M530 591h0M1140 481h0M682 404h0M1035 879h0M627 453h0M706 505h0M1253 602h0M1107 521h0M1069 747h0M684 858h0M468 650h0M790 707h0M783 668h0M814 815h0M794 786h0M1330 852h0M1335 626h0M698 714h0M1067 574h0M714 703h0M1336 632h0M767 873h0M940 834h0M1529 875h0M832 512h0M705 703h0M1109 574h0"/>
<path stroke="#dc4869" d="M1501 866h0M833 674h0M1386 865h0M958 968h0M586 778h0M652 302h0M1603 763h0M524 728h0M734 293h0M1046 553h0M1048 1129h0M1277 896h0"/>
<path stroke="#9e2f7e" d="M1141 639h0M877 616h0M1318 941h0M683 421h0M819 831h0M1382 926h0M868 1106h0M719 785h0M1423 558h0M868 896h0M929 837h0M1511 873h0M717 806h0M347 982h0M1417 571h0M824 1084h0M538 687h0M1333 986h0M1407 992h0M1472 861h0M724 319h0M490 970h0M669 577h0M1275 929h0M1334 701h0M1011 769h0M875 1144h0M1152 479h0"/>
<path stroke="#210e4a" d="M1161 669h0M1389 610h0M677 736h0M1287 577h0M525 958h0M1287 565h0M838 627h0"/>
<path stroke="#fde2a5" d="M1359 852h0"/>
<path stroke="#f0665f" d="M773 646h0M1495 915h0M1073 1103h0M1339 980h0M708 695h0M748 655h0M1366 997h0M1414 592h0"/>
<path stroke="#501478" d="M1120 494h0M593 494h0M576 554h0M1161 426h0M1581 510h0M957 413h0M607 780h0M608 734h0M357 968h0M1524 812h0M496 604h0M1005 771h0M530 923h0M893 239h0M937 231h0M525 713h0M1507 569h0M1278 670h0M864 634h0M597 936h0M761 688h0M1149 521h0M930 236h0M1286 684h0M1032 684h0M1355 797h0M1297 502h0M526 536h0M706 462h0M891 483h0M1559 786h0M1061 527h0M1491 569h0M1262 588h0M527 716h0M1541 530h0M1268 740h0M1278 659h0M439 604h0M1304 609h0M769 1157h0M1355 597h0M1370 556h0M450 978h0M1465 446h0M393 949h0M1310 990h0M1413 454h0M1168 789h0M889 774h0M1217 604h0M1531 543h0M1148 622h0M920 231h0M1584 507h0M460 908h0M515 627h0M675 650h0M1141 574h0M816 632h0M746 631h0M857 1096h0M1013 509h0M1065 413h0M819 719h0M1351 750h0M652 632h0M1168 707h0M905 700h0M1364 621h0M525 585h0M456 831h0"/>
<path stroke="#fd9a6b" d="M544 927h0M366 1016h0"/>
<path stroke="#7e2481" d="M1006 591h0M350 943h0M428 1001h0M713 632h0M1152 970h0M737 357h0M1271 921h0M690 967h0M536 561h0M787 801h0M661 438h0M771 971h0M608 747h0M1525 554h0M731 707h0M1457 835h0M757 295h0M1209 581h0M1301 744h0M1178 681h0M402 1018h0M382 912h0M407 950h0M692 834h0M367 1009h0M1090 590h0M1454 592h0M478 551h0M1125 515h0M942 397h0M467 996h0M1413 613h0M652 524h0M869 640h0M1622 736h0M752 627h0M391 968h0M1008 570h0M1448 828h0M1415 950h0"/>
<path stroke="#febe85" d="M709 312h0"/>
<path stroke="#e75664" d="M615 697h0M1293 879h0M664 308h0M1369 1034h0M1282 969h0M1330 865h0M650 304h0"/>
<path stroke="#5f197e" d="M875 674h0M1375 671h0M952 245h0M810 696h0M1338 710h0M1026 474h0M663 461h0M889 703h0M691 590h0M726 775h0M723 493h0M400 973h0M1104 503h0M467 578h0M782 1143h0M516 511h0M593 543h0M1041 1138h0M1178 800h0M308 823h0M681 707h0M367 886h0M930 818h0M457 647h0M1493 543h0M1648 732h0M1238 1007h0M1298 592h0M1241 503h0M1212 691h0M400 922h0M1052 575h0M791 738h0M1400 713h0M1250 535h0M1050 1045h0M439 909h0M1239 782h0M1063 591h0M971 762h0M790 636h0M1146 793h0M623 603h0M441 615h0M1293 429h0M697 423h0M1352 493h0M939 714h0M696 647h0M630 693h0M653 573h0M1327 911h0M1661 537h0M1282 738h0M1383 658h0M1596 527h0M444 994h0M632 479h0M855 690h0M1220 1000h0M554 510h0M1200 543h0M503 648h0"/>
<path stroke="#000004" d="M609 557h0M422 874h0M1534 821h0M1405 811h0M1020 1141h0M915 837h0M1430 605h0M1038 892h0M1223 586h0M1331 611h0M601 797h0M1202 632h0M1452 811h0M1176 592h0M1210 560h0M1092 718h0M1472 547h0M363 892h0M1393 571h0M698 777h0M761 970h0M1368 658h0M1327 1003h0M1017 967h0M341 1000h0M1067 884h0M1453 447h0M1303 555h0M1381 860h0M1266 539h0M1127 481h0M924 232h0M1317 909h0M1237 719h0M1174 1013h0M1253 979h0M1418 915h0M954 250h0M1162 547h0M1278 636h0M1266 701h0M866 836h0M1051 662h0M1069 663h0M667 511h0M931 452h0M749 664h0M1087 496h0M1398 860h0M381 994h0M754 861h0M1192 561h0M1238 690h0M1096 644h0M1081 963h0M1402 494h0M748 520h0M856 451h0M1286 501h0M670 796h0M1676 574h0M1347 1000h0M678 461h0M1087 467h0M1042 759h0M1244 1028h0M1317 637h0M1543 874h0M961 589h0M1106 595h0M1070 445h0M1217 940h0M910 555h0M1367 543h0M1521 421h0M832 692h0M904 1047h0M1134 942h0M1218 539h0M1162 951h0M1037 353h0M1331 419h0M1316 494h0M1170 1004h0M1396 1016h0M1502 443h0M844 537h0M882 399h0M1025 787h0M1110 397h0M1434 565h0M1468 761h0M553 897h0M1322 1015h0M1352 442h0M1342 433h0M1537 881h0M1166 442h0M1287 752h0M1707 604h0M1151 380h0M1604 528h0M910 583h0M1337 676h0M1437 666h0M612 461h0M1244 368h0M725 547h0M1234 720h0M1020 1129h0M840 243h0M1449 615h0M883 251h0M1055 1101h0M813 935h0M464 597h0M827 786h0M844 494h0M683 608h0M858 1135h0M777 1167h0M1467 468h0M1344 611h0M1243 491h0M1371 878h0M867 954h0M1317 570h0M1227 712h0M1569 771h0M801 549h0M1021 986h0M1126 565h0M908 1109h0M1068 727h0M1286 635h0M448 649h0M980 478h0M1334 883h0M905 763h0M997 574h0M1354 502h0M1341 885h0M1361 667h0M1175 379h0M1678 707h0M807 571h0M1340 457h0M1270 938h0M1318 920h0M1226 736h0M1102 1066h0M750 476h0M662 450h0M1573 769h0M1604 782h0M1200 508h0M1255 1030h0M1293 423h0M1405 878h0M1129 408h0M843 642h0M1075 957h0M459 605h0M984 811h0M1400 655h0M1151 992h0M1291 686h0M891 762h0M958 513h0M1049 482h0M1446 842h0M1137 598h0M1263 714h0M906 1073h0M1081 412h0M1428 1002h0M1329 450h0M549 973h0M1295 633h0M1006 268h0M1337 658h0M1028 566h0M1565 573h0M979 780h0M1030 652h0M999 662h0M1475 867h0M1077 761h0M963 774h0M1668 701h0M470 894h0M885 504h0M1442 572h0M1439 931h0M994 699h0M1118 392h0M879 436h0M1138 1001h0M1143 971h0M699 517h0M1293 721h0M898 671h0M934 741h0M1479 482h0M1596 569h0M1191 482h0M716 513h0M1194 550h0M956 390h0M1037 266h0M1580 571h0M885 429h0M1143 589h0M1104 396h0M455 963h0M889 384h0M1599 778h0M1367 419h0M1185 633h0M1371 996h0M1083 508h0M1440 634h0M1163 580h0M739 821h0M991 784h0M1232 547h0M1585 490h0M332 891h0M533 936h0M1431 745h0M1354 682h0M1606 567h0M993 496h0M1385 957h0M1398 959h0M1249 657h0M1051 758h0M1380 437h0M1171 438h0M1695 617h0M1533 475h0M834 586h0M1674 572h0M1017 898h0M952 629h0M1516 512h0M1273 706h0M501 998h0M1152 684h0M1175 715h0M628 492h0M539 990h0M1071 872h0M1134 680h0M1252 964h0M1242 509h0M1702 648h0M1147 653h0M1490 818h0M716 495h0M1323 742h0M1408 531h0M1209 740h0M1599 524h0M436 893h0M816 616h0M1498 849h0M1670 687h0M744 794h0M490 606h0M963 1110h0M1436 615h0M1363 689h0M685 581h0M1119 434h0M1016 255h0M792 474h0M1036 1069h0M1351 471h0M1044 1052h0M910 699h0M706 465h0M892 803h0M1299 982h0M1066 264h0M1336 654h0M1035 634h0M1510 507h0M1184 684h0M1125 372h0M1410 708h0M1239 636h0M1112 777h0M993 919h0M739 829h0M1206 526h0M755 287h0M1396 609h0M1502 490h0M1382 957h0M992 911h0M1129 693h0M955 1088h0M1210 549h0M1308 630h0M968 923h0M581 721h0M830 1082h0M1297 385h0M658 484h0M1261 529h0M865 562h0M611 643h0M1403 648h0M1034 733h0M1253 576h0M670 627h0M1099 552h0M1144 897h0M916 794h0M1568 472h0M645 482h0M1118 967h0M731 477h0M853 654h0M896 758h0M1722 635h0M1622 512h0M1515 556h0M1669 560h0M783 636h0M1140 1009h0M517 948h0M989 382h0M778 754h0M616 717h0M1558 843h0M1046 1058h0M1072 704h0M1174 575h0M1477 980h0M1111 383h0M881 1134h0M1158 663h0M1236 495h0M1219 937h0M706 843h0M1224 912h0M1103 576h0M1415 925h0M1543 843h0M1348 500h0M797 711h0M1552 430h0M714 654h0M730 960h0M1254 582h0M1369 631h0M1276 631h0M1390 965h0M940 687h0M1263 893h0M1530 472h0M755 714h0M1659 569h0M1194 1013h0M744 471h0M1315 671h0M972 547h0M1241 927h0M1116 751h0M807 761h0M1407 897h0M785 1172h0M992 428h0M523 940h0M1323 690h0M386 896h0M873 256h0M892 549h0M864 247h0M1584 774h0M578 487h0M1347 715h0M1384 579h0M1614 551h0M396 871h0M1041 398h0M1082 257h0M780 1150h0M692 474h0M1036 673h0M1270 646h0M1400 844h0M1243 731h0M1425 579h0M1665 589h0M1045 363h0M1659 717h0M817 471h0M1628 577h0M975 731h0M1476 604h0M725 337h0M851 1097h0M463 535h0M1425 683h0M1101 931h0M806 724h0M1629 755h0M686 733h0M1025 452h0M1247 773h0M651 520h0M1468 790h0M1152 515h0M1353 753h0M297 819h0M936 475h0M1018 742h0M881 695h0M1079 983h0M839 549h0M1321 448h0M1314 543h0M1425 592h0M817 534h0M1287 665h0M1313 1013h0M1094 600h0M1536 483h0M1199 492h0M1525 663h0M1071 268h0M1128 398h0M728 492h0M965 675h0M1356 382h0M1404 536h0M1345 646h0M839 254h0M1188 702h0M626 965h0M1233 365h0M681 672h0M1467 614h0M1135 970h0M1644 732h0M1252 1011h0M1110 402h0M1193 934h0M1354 852h0M1355 804h0M1410 584h0M827 332h0M978 507h0M1085 655h0M1503 552h0M898 531h0M1425 969h0M606 769h0M1052 766h0M1067 480h0M1401 565h0M1296 425h0M920 751h0M924 1137h0M727 502h0M929 369h0M1251 549h0M1139 455h0M1354 914h0M1242 581h0M1484 430h0M471 889h0M1521 834h0M1160 561h0M1235 647h0M1492 440h0M1112 556h0M1180 601h0M1221 434h0M859 628h0M1251 903h0M736 769h0M1137 660h0M1613 773h0M1203 558h0M1456 904h0M1174 704h0M1669 705h0M992 510h0M1362 745h0M955 537h0M515 682h0M907 526h0M995 705h0M1014 260h0M1586 479h0M910 258h0M1224 364h0M817 432h0M1413 938h0M1152 392h0M1338 613h0M1447 483h0M1389 989h0M1402 568h0M1303 618h0M854 238h0M1059 1109h0M540 510h0M1206 945h0M1022 1143h0M1377 663h0M1392 941h0M1189 901h0M1104 543h0M1301 880h0M1163 642h0M1439 555h0M879 710h0M1147 630h0M1224 491h0M859 261h0M1531 512h0M1076 636h0M631 423h0M1180 370h0M1189 395h0M476 630h0M1219 947h0M868 475h0M815 382h0M875 756h0M1518 439h0M1509 446h0M1008 631h0M1176 555h0M1451 412h0M1248 742h0M996 267h0M1538 544h0M1245 593h0M1560 820h0M1267 511h0M888 691h0M1305 526h0M1281 624h0M672 688h0M1442 579h0M1053 1064h0M1195 354h0M1533 533h0M1654 714h0M1035 609h0M1054 306h0M1215 687h0M1018 591h0M735 628h0M528 616h0M661 746h0M1314 372h0M1145 744h0M705 585h0M884 809h0M813 675h0M404 993h0M1011 381h0M936 561h0M704 530h0M1428 827h0M554 957h0M941 915h0M1166 584h0M921 577h0M442 868h0M702 487h0M927 619h0M1092 291h0M1481 834h0M727 505h0M621 426h0M1279 692h0M1343 727h0M665 527h0M1361 484h0M286 835h0M976 967h0M1017 975h0M987 601h0M1071 462h0M640 683h0M970 503h0M1381 582h0M831 637h0M782 587h0M1274 396h0M1387 527h0M1160 469h0"/>
<path stroke="#fed194" d="M623 830h0"/>
<path stroke="#feac77" d="M1007 1132h0"/>
<path stroke="#bf3a76" d="M622 896h0M785 1164h0M874 815h0M561 707h0M1515 922h0M701 957h0M690 863h0M742 786h0M719 1127h0M1528 907h0M1316 487h0M986 910h0M757 663h0M760 870h0"/>
<path stroke="#ce416f" d="M912 1110h0M767 1186h0M1135 678h0M1377 968h0M1088 571h0M1152 637h0M407 1000h0M699 864h0M1322 1010h0M1290 910h0M994 914h0M760 712h0"/>
<path stroke="#af347b" d="M527 696h0M595 764h0M1630 534h0M1418 596h0M860 882h0M420 908h0M681 434h0M556 953h0M509 537h0M984 1100h0M613 757h0M682 963h0M1150 1014h0M463 566h0M784 621h0M355 1008h0M717 973h0M1009 1081h0M1028 1129h0M743 628h0M546 722h0M460 970h0M1328 996h0M1270 652h0M1515 946h0M1546 846h0M800 925h0M1500 558h0"/>
<path stroke="#f8755e" d="M498 559h0M864 887h0M626 764h0M636 848h0M787 1170h0M1155 975h0"/>
<path stroke="#401072" d="M1345 481h0M1062 539h0M818 790h0M782 1161h0M711 374h0M516 687h0M997 417h0M604 527h0M1108 527h0M921 519h0M408 973h0M468 916h0M618 494h0M1375 552h0M374 890h0M1547 610h0M1317 598h0M1206 757h0M787 561h0M1210 733h0M1203 599h0M621 680h0M1301 636h0M1365 406h0M1246 616h0M304 815h0M861 382h0M556 937h0M1364 614h0M1365 602h0M1205 735h0M980 784h0M508 717h0M785 1156h0M664 602h0M1055 602h0M649 490h0M1241 525h0M1450 610h0M1107 735h0M997 489h0M1335 573h0M781 534h0M1531 632h0M1335 636h0M1534 551h0M1332 639h0M1675 558h0M366 890h0M425 996h0M1115 534h0M1107 654h0M993 468h0M536 741h0M867 496h0M1261 504h0M403 985h0M1272 540h0M1094 788h0M339 991h0M1026 446h0M548 601h0"/>
<path stroke="#300f60" d="M1181 645h0M1106 632h0M530 657h0M1146 623h0M1692 596h0M1130 494h0M1247 610h0M1068 256h0M1103 681h0M1165 436h0M522 652h0M1375 574h0M1426 586h0M1230 529h0M1558 418h0M492 948h0M1220 524h0M792 485h0M1133 433h0M1193 676h0M637 425h0M1002 472h0M1093 270h0"/>
<path stroke="#fcf4b6" d="M688 323h0M698 963h0"/>
<path stroke="#e75664" d="M1535 833h0M1452 906h0M584 758h0M731 455h0M849 659h0M499 589h0M457 950h0"/>
<path stroke="#000004" d="M332 888h0M438 963h0M1539 801h0M1318 467h0M1276 956h0M1450 688h0M1333 602h0M688 689h0M487 621h0M1299 545h0M1420 651h0M938 823h0M968 263h0M368 943h0M1476 652h0M1309 1014h0M1191 576h0M776 1152h0M939 701h0M857 795h0M591 660h0M1421 821h0M625 682h0M1049 261h0M801 780h0M1114 576h0M1317 632h0M901 816h0M1027 742h0M1234 948h0M518 921h0M1019 377h0M868 237h0M1347 495h0M1414 563h0M1125 952h0M1387 440h0M597 659h0M659 655h0M649 417h0M1093 1083h0M1537 791h0M969 242h0M1270 419h0M1302 504h0M1195 560h0M1023 771h0M727 459h0M1458 802h0M1162 973h0M1204 534h0M899 1073h0M780 560h0M352 994h0M1314 529h0M924 393h0M1063 266h0M999 466h0M1386 871h0M1200 368h0M1451 727h0M1199 628h0M811 752h0M1147 564h0M1200 554h0M768 568h0M976 737h0M914 658h0M909 229h0M1360 685h0M724 699h0M843 824h0M1231 627h0M656 721h0M534 881h0M755 407h0M1198 1003h0M1542 541h0M1326 582h0M748 564h0M1137 649h0M921 1062h0M1170 1012h0M1274 599h0M1060 597h0M1235 801h0M1160 651h0M1296 944h0M682 702h0M658 694h0M1102 512h0M1445 545h0M1032 373h0M834 702h0M1670 698h0M1273 575h0M950 759h0M1278 969h0M984 820h0M1255 999h0M996 810h0M1698 608h0M1446 426h0M1186 733h0M617 770h0M429 918h0M688 555h0M776 399h0M884 412h0M1460 838h0M1383 415h0M1356 856h0M1026 1137h0M1402 407h0M1160 604h0M1314 650h0M1177 461h0M702 544h0M1155 797h0M1112 636h0M502 981h0M1102 629h0M1678 594h0M1507 480h0M1119 916h0M865 690h0M1027 265h0M1182 990h0M863 546h0M1100 611h0M1174 734h0M1541 850h0M1302 628h0M1300 587h0M1604 574h0M1025 904h0M886 400h0M1299 922h0M497 594h0M799 483h0M1313 919h0M1454 526h0M1600 553h0M1693 690h0M904 429h0M1054 392h0M1223 550h0M769 616h0M1221 560h0M982 647h0M1421 580h0M381 989h0M1258 641h0M863 1127h0M1263 383h0M1121 583h0M1120 963h0M989 916h0M622 697h0M983 925h0M1490 865h0M903 240h0M520 679h0M861 730h0M1203 771h0M1040 342h0M720 587h0M1456 413h0M1676 711h0M1117 704h0M416 904h0M998 602h0M964 799h0M1405 902h0M1210 600h0M1077 980h0M1180 563h0M1240 563h0M1642 566h0M1425 611h0M1216 934h0M1608 503h0M1391 416h0M1324 568h0M1380 695h0M490 522h0M786 454h0M1088 565h0M1234 897h0M1185 418h0M714 581h0M1172 592h0M796 918h0M855 757h0M1188 681h0M1115 449h0M1224 351h0M1422 792h0M984 314h0M1419 505h0M1409 539h0M1041 497h0M1683 598h0M1287 463h0M1243 955h0M941 236h0M1098 448h0M1014 885h0M1212 599h0M1348 634h0M395 941h0M861 1097h0M1641 559h0M1393 900h0M1343 769h0M822 720h0M1235 555h0M1216 968h0M1067 730h0M881 886h0M1545 812h0M1059 1104h0M1317 404h0M371 896h0M755 649h0M1710 607h0M1564 822h0M913 372h0M764 879h0M1710 647h0M1170 957h0M542 876h0M1446 505h0M1046 1138h0M1594 497h0M1155 643h0M1142 938h0M910 571h0M381 868h0M1101 737h0M1079 506h0M948 262h0M619 901h0M1359 1020h0M789 1139h0M1016 608h0M1055 656h0M1130 710h0M1688 665h0M1016 989h0M734 315h0M1372 516h0M972 1097h0M1512 510h0M417 967h0M984 800h0M806 928h0M1715 684h0M1021 509h0M917 512h0M910 496h0M846 648h0M1557 540h0M763 788h0M1191 495h0M1123 743h0M840 484h0M1583 765h0M966 230h0M1153 766h0M937 681h0M1321 566h0M1117 764h0M1017 681h0M1248 506h0M1144 386h0M1342 975h0M500 976h0M1515 420h0M838 715h0M1115 397h0M1035 260h0M1550 480h0M859 840h0M1005 713h0M1327 758h0M1337 598h0M908 1106h0M1224 951h0M606 516h0M1482 871h0M766 412h0M1425 974h0M988 773h0M697 496h0M1049 1054h0M883 540h0M966 724h0M942 904h0M298 858h0M987 571h0M1128 594h0M1010 430h0M1434 471h0M1426 573h0M1025 967h0M1212 680h0M1378 805h0M1010 474h0M1572 779h0M972 660h0M1542 447h0M705 438h0M1048 717h0M1187 643h0M900 1050h0M1269 528h0M1417 405h0M818 478h0M867 483h0M1235 696h0M946 814h0M934 827h0M665 426h0M1519 907h0M1117 783h0M1253 754h0M1040 964h0M1097 756h0M1226 885h0M1300 492h0M876 564h0M901 710h0M543 935h0M1032 586h0M1166 1011h0M717 700h0M674 469h0M1114 621h0M823 277h0M905 636h0M822 543h0M973 269h0M1607 583h0M476 612h0M864 1152h0M1022 478h0M1340 390h0M1612 506h0M954 439h0M998 697h0M741 728h0M1022 614h0M1336 947h0M922 534h0M1325 415h0M1000 702h0M750 452h0M509 869h0M1484 553h0M1624 519h0M516 904h0M611 776h0M1016 972h0M454 605h0M1151 924h0M1410 608h0M1184 529h0M1215 953h0M1130 887h0M929 240h0M1287 517h0M986 1104h0M381 891h0M1037 804h0M402 885h0M1372 382h0M1402 618h0M834 823h0M1121 621h0M836 837h0M1557 815h0M1190 604h0M1111 484h0M1266 660h0M754 700h0M963 378h0M414 925h0M1322 997h0M1474 986h0M1075 666h0M1046 975h0M783 267h0M804 489h0M1502 859h0M1150 639h0M1187 516h0M1098 959h0M1421 461h0M1172 931h0M775 1129h0M968 823h0M1148 607h0M1556 827h0M425 941h0M435 622h0M1419 416h0M1319 471h0M918 581h0M417 921h0M864 422h0M1650 531h0M1544 440h0M1656 692h0M1397 1035h0M1150 886h0M1450 554h0M1417 708h0M1285 571h0M419 964h0M1674 596h0M1403 921h0M879 518h0M1444 695h0M783 1175h0M541 690h0M1200 951h0M1061 680h0M590 534h0M963 619h0M840 433h0M1091 959h0M1243 473h0M681 642h0M1377 506h0M1562 603h0M1004 252h0M757 488h0M702 456h0M697 695h0M1252 490h0M692 569h0M657 551h0M829 809h0M1070 403h0M1088 536h0M1095 744h0M727 574h0M457 982h0M478 899h0M1004 718h0M1312 673h0M532 651h0M908 715h0M1237 759h0M596 639h0M1346 884h0M948 505h0M1154 888h0M1149 973h0M1003 910h0M1147 966h0M1542 577h0M1075 553h0M1205 728h0M1533 515h0M1193 749h0M1002 241h0M1238 649h0M1624 509h0M1443 904h0M789 808h0M1300 432h0M1616 527h0M1498 861h0M1357 548h0M1162 746h0M1062 963h0M1440 674h0M1278 653h0M1156 528h0M1419 661h0M1201 982h0M1123 526h0M1278 727h0M473 618h0M1528 783h0M1160 764h0M565 466h0M1425 560h0M1320 659h0M1100 624h0M1688 677h0M1134 906h0M689 724h0M1572 507h0M1029 979h0M1144 656h0M978 906h0M760 864h0M1065 318h0M1476 948h0M335 900h0M1321 520h0M1509 496h0M715 459h0M1071 515h0M912 1114h0M1405 720h0M1698 644h0M553 561h0M1361 963h0M1022 270h0M700 874h0M814 590h0M889 687h0M1374 655h0M1016 555h0M1643 573h0M968 479h0M1572 715h0M1229 767h0M1079 372h0M1523 572h0M1331 457h0M1084 604h0M711 1121h0M1282 720h0M758 1139h0M342 900h0M459 856h0M1047 970h0M1030 528h0M1297 444h0M1194 766h0M1180 1002h0M729 485h0M1038 1120h0M1149 955h0M559 769h0M1350 598h0M1126 769h0M1490 972h0M1117 887h0M444 606h0M1384 954h0M886 477h0M1387 787h0M1153 507h0M1007 981h0M1306 575h0M1100 656h0M1375 472h0M781 390h0M698 443h0M892 707h0M858 1145h0M1551 516h0M1244 487h0M794 390h0M1523 409h0M1129 966h0M735 411h0M1117 545h0M1196 476h0M1355 582h0M1605 580h0M1121 778h0M1571 854h0M1275 666h0"/>
<path stroke="#fd9a6b" d="M353 1012h0M1454 948h0M660 848h0M507 613h0M746 704h0"/>
<path stroke="#dc4869" d="M1012 907h0M986 1091h0M920 890h0M1359 1041h0M650 968h0M1139 512h0M654 310h0M790 648h0M1436 982h0M617 831h0M1049 1120h0M944 1060h0M798 820h0M1178 776h0M1414 897h0M648 421h0"/>
<path stroke="#bf3a76" d="M509 570h0M1291 571h0M359 999h0M491 574h0M1416 829h0M844 677h0M504 697h0M608 752h0M1364 1025h0M764 276h0M1473 896h0M446 640h0M1445 1000h0M837 265h0M735 496h0M1136 540h0M745 642h0"/>
<path stroke="#8e2a81" d="M521 537h0M1147 651h0M1512 881h0M762 840h0M800 816h0M370 935h0M620 651h0M941 969h0M1102 555h0M1385 1030h0M726 308h0M700 585h0M1086 560h0M1454 872h0M1041 882h0M814 255h0M1288 941h0M862 930h0M1487 897h0M1279 717h0M760 805h0M748 863h0M643 603h0M1376 584h0M1325 641h0M881 818h0M1417 884h0M1182 973h0"/>
<path stroke="#401072" d="M831 658h0M906 468h0M1077 708h0M827 695h0M501 687h0M1555 575h0M950 542h0M1087 738h0M881 796h0M1071 416h0M1193 364h0M740 471h0M1256 716h0M721 712h0M1202 588h0M1317 553h0M1146 785h0M460 888h0M798 490h0M784 473h0M1247 563h0M1055 571h0M1271 766h0M1172 573h0M1134 695h0M556 932h0M688 812h0M694 744h0M1139 552h0M978 1133h0M1173 767h0M1328 530h0M1339 627h0M1364 548h0M1199 527h0M940 1135h0M387 998h0M896 499h0M1392 739h0M1231 872h0M699 481h0M998 811h0M1362 524h0M959 819h0M1677 603h0M1173 739h0M833 247h0M1143 692h0M1119 510h0M1003 334h0M1214 553h0M1293 638h0M1276 747h0M405 909h0M1514 435h0M533 757h0M1107 611h0M1132 542h0M1053 975h0M1404 603h0M365 903h0M1001 267h0M942 241h0M889 234h0M1154 485h0M642 422h0M1287 613h0M883 241h0M994 409h0M1064 514h0M1066 720h0"/>
<path stroke="#300f60" d="M1270 568h0M1322 541h0M1371 604h0M1428 741h0M468 864h0M1385 584h0M1307 562h0M501 637h0M654 424h0M666 490h0M1110 607h0M1181 481h0M1476 581h0M1072 391h0M1205 572h0M1032 755h0M515 651h0M1613 534h0M805 252h0M386 961h0M1086 692h0M1288 770h0M1479 591h0M807 626h0M1030 672h0M812 597h0M1197 547h0M1243 688h0M1164 596h0"/>
<path stroke="#af347b" d="M983 550h0M486 987h0M929 805h0M1230 993h0M734 624h0M850 671h0M790 280h0M882 890h0M1414 1015h0M1378 1032h0M501 925h0M1223 654h0M1378 639h0M590 732h0M1387 730h0M743 864h0M1015 242h0M442 929h0M636 969h0M1278 620h0M614 956h0M733 751h0"/>
<path stroke="#fa8864" d="M467 585h0M1230 978h0M717 300h0M647 857h0M608 755h0M695 307h0"/>
<path stroke="#ce416f" d="M714 714h0M1294 873h0M937 885h0M1320 1024h0M1387 1027h0M451 928h0M479 622h0M1089 1087h0M458 924h0M749 860h0M1122 612h0M1312 685h0M1163 658h0M806 650h0M544 659h0M596 501h0"/>
<path stroke="#501478" d="M1199 601h0M1203 455h0M1019 773h0M1326 662h0M1158 395h0M1541 757h0M1625 558h0M1416 521h0M1419 438h0M648 787h0M1295 716h0M513 517h0M1092 677h0M1631 729h0M1386 590h0M462 630h0M745 439h0M873 247h0M858 600h0M1285 510h0M1155 548h0M689 425h0M328 904h0M487 934h0M770 806h0M826 716h0M646 510h0M1450 517h0M414 898h0M596 742h0M539 749h0M1439 643h0M295 839h0M717 359h0M676 626h0M1390 718h0M1184 647h0M912 238h0M482 967h0M610 586h0M849 375h0M801 451h0M922 634h0M1232 492h0M559 758h0M821 251h0M1209 593h0M569 614h0M1585 769h0M1212 472h0M984 777h0M1312 723h0M753 767h0M913 359h0M901 500h0M959 489h0M506 658h0M760 512h0M1079 655h0M772 282h0M737 1134h0M373 911h0M1008 262h0M645 572h0M1056 280h0M1000 787h0M335 911h0"/>
<path stroke="#fde2a5" d="M719 298h0"/>
<path stroke="#9e2f7e" d="M720 466h0M763 1155h0M1156 595h0M1376 859h0M597 564h0M1218 978h0M362 987h0M1332 582h0M1042 474h0M684 541h0M808 403h0M809 663h0M878 958h0M711 723h0M698 634h0M434 946h0M1067 619h0M339 894h0M812 924h0"/>
<path stroke="#feac77" d="M1455 942h0"/>
<path stroke="#f0665f" d="M653 316h0M580 782h0M516 528h0M1199 936h0M1314 970h0M1340 870h0M1434 854h0"/>
<path stroke="#210e4a" d="M862 401h0M295 811h0M1252 566h0M663 653h0"/>
<path stroke="#f8755e" d="M662 855h0M558 737h0M757 1136h0M1025 1134h0M726 822h0"/>
<path stroke="#5f197e" d="M1524 530h0M680 487h0M816 653h0M877 686h0M1421 898h0M722 385h0M1051 1077h0M1200 667h0M1380 562h0M925 660h0M707 511h0M1377 545h0M1249 477h0M822 952h0M714 522h0M495 624h0M1007 804h0M697 471h0M905 1059h0M837 738h0M1342 717h0M552 963h0M716 680h0M1351 743h0M832 784h0M739 749h0M606 784h0M974 929h0M1486 447h0M1013 677h0M1332 775h0M338 937h0M1466 784h0M1158 523h0M778 686h0M395 981h0M1175 777h0M606 666h0M1082 425h0M1619 761h0M1303 685h0M971 247h0M1374 649h0M1360 433h0M1337 694h0M515 500h0M1249 649h0M1010 1138h0M1699 649h0M1339 522h0M811 420h0M1090 614h0M703 414h0M733 339h0M1584 461h0M1349 719h0M1034 243h0M681 543h0M1147 476h0M304 835h0M518 888h0M740 867h0M820 618h0M728 745h0M473 531h0M1053 568h0M646 540h0M1132 556h0M724 681h0M1385 662h0M1268 1000h0M485 868h0M799 254h0M395 969h0M973 905h0M725 828h0M612 476h0M1534 859h0M381 1015h0M905 792h0"/>
<path stroke="#6f1e80" d="M862 684h0M526 495h0M1512 443h0M554 501h0M592 623h0M628 487h0M587 782h0M1250 884h0M729 652h0M1051 1107h0M1248 495h0M939 826h0M1284 574h0M1192 542h0M1591 762h0M740 633h0M413 874h0M492 881h0M1211 611h0M747 350h0M455 598h0M1195 726h0M1350 969h0M909 647h0M1581 522h0M1568 853h0M1228 571h0M637 763h0M1012 1119h0M620 506h0M423 985h0M1391 423h0M739 649h0M920 894h0M677 851h0M406 944h0M421 936h0M769 736h0M1462 857h0M627 461h0M784 813h0M1332 1034h0M1210 665h0M718 655h0M496 1000h0M792 582h0M580 591h0M1292 954h0M750 1135h0M810 642h0M626 753h0M667 786h0"/>
<path stroke="#fed194" d="M508 551h0"/>
<path stroke="#7e2481" d="M744 485h0M686 833h0M1227 660h0M617 787h0M688 686h0M853 810h0M1063 625h0M544 932h0M928 772h0M809 807h0M492 655h0M1343 437h0M976 810h0M1114 640h0M712 810h0M868 766h0M694 310h0M1092 284h0M1334 647h0M1087 367h0M1245 505h0M938 726h0M1194 485h0M526 721h0M728 629h0M1389 602h0M1222 924h0M1391 665h0M981 766h0M627 702h0M724 295h0M609 957h0M1341 654h0M1352 517h0M533 517h0M1251 712h0M1023 1129h0M1369 599h0M573 759h0M496 689h0M1039 1123h0M797 271h0M1048 1065h0M1413 630h0M1006 1136h0M1223 963h0M442 876h0"/>
<path stroke="#fcf4b6" d="M504 577h0"/>
<path stroke="#fd9a6b" d="M702 317h0M529 631h0"/>
<path stroke="#000004" d="M1283 604h0M1492 857h0M1288 524h0M1346 1023h0M1174 366h0M1188 887h0M1307 625h0M390 909h0M1098 964h0M1432 679h0M681 637h0M1582 790h0M1509 586h0M1533 491h0M1020 242h0M1307 493h0M1419 475h0M629 477h0M1162 940h0M937 279h0M693 957h0M1367 720h0M709 849h0M823 941h0M1027 554h0M1539 523h0M1149 960h0M1696 605h0M1073 583h0M1110 534h0M1246 759h0M1612 784h0M1649 716h0M1025 977h0M918 348h0M847 240h0M1246 374h0M362 876h0M1129 766h0M891 1068h0M890 537h0M665 741h0M611 850h0M540 889h0M1377 603h0M1430 706h0M832 831h0M1277 451h0M1256 914h0M1169 555h0M1486 655h0M1344 681h0M506 527h0M1561 855h0M1188 956h0M658 468h0M1177 479h0M1337 898h0M1599 790h0M1594 523h0M1068 528h0M1274 595h0M942 374h0M1529 522h0M1469 577h0M1576 797h0M876 502h0M1157 427h0M1273 453h0M696 690h0M689 485h0M725 646h0M1556 568h0M1248 1028h0M1429 493h0M1316 912h0M1213 561h0M1548 542h0M1436 584h0M1081 989h0M1365 507h0M1266 889h0M1165 512h0M1211 377h0M1086 276h0M1359 556h0M674 657h0M1430 872h0M1340 599h0M500 907h0M1451 832h0M437 592h0M1692 683h0M1527 415h0M924 818h0M337 965h0M1416 636h0M1542 823h0M950 358h0M1620 764h0M696 613h0M939 446h0M1573 832h0M500 985h0M720 459h0M843 465h0M941 441h0M763 736h0M1093 609h0M740 779h0M702 645h0M1116 606h0M1552 836h0M1669 596h0M916 440h0M1555 415h0M1149 506h0M1545 822h0M1201 941h0M1177 490h0M490 637h0M358 982h0M1221 372h0M882 608h0M616 477h0M1297 657h0M1243 409h0M1150 484h0M1131 996h0M469 543h0M1672 570h0M1439 623h0M1262 591h0M1698 621h0M802 920h0M797 772h0M1432 514h0M1155 1015h0M1203 567h0M1090 712h0M1410 481h0M1411 950h0M1182 616h0M349 934h0M1015 527h0M1265 556h0M366 965h0M949 414h0M1222 498h0M1056 644h0M1471 784h0M765 440h0M674 956h0M1003 380h0M1590 530h0M1257 601h0M1017 734h0M548 755h0M752 876h0M1415 560h0M890 412h0M446 948h0M1066 582h0M1083 579h0M1444 920h0M1482 459h0M767 810h0M992 1134h0M1209 973h0M1216 390h0M1414 474h0M995 247h0M826 530h0M517 621h0M678 567h0M1337 1002h0M1352 435h0M1140 431h0M797 405h0M1546 879h0M1107 380h0M1319 552h0M1344 631h0M1031 794h0M1232 775h0M948 770h0M1647 703h0M766 475h0M1176 508h0M1314 762h0M1415 748h0M1132 984h0M1286 622h0M1507 431h0M1435 580h0M1479 766h0M1290 690h0M1377 406h0M1303 488h0M1062 641h0M945 240h0M1483 965h0M1475 630h0M753 476h0M1113 879h0M1289 499h0M1075 320h0M1002 833h0M1466 874h0M1201 958h0M1182 525h0M1426 523h0M790 627h0M1347 594h0M1430 535h0M903 385h0M1714 605h0M907 377h0M1698 617h0M983 234h0M1212 701h0M557 689h0M460 948h0M1091 476h0M748 602h0M1075 876h0M1170 351h0M1388 818h0M551 514h0M1203 998h0M1110 665h0M918 284h0M705 343h0M1034 399h0M1149 500h0M743 274h0M1129 669h0M1042 1038h0M1030 802h0M1041 735h0M992 750h0M1272 880h0M1377 811h0M965 267h0M1435 443h0M887 553h0M1134 689h0M1114 719h0M1338 450h0M1371 471h0M1220 995h0M897 261h0M1102 941h0M324 873h0M941 823h0M1371 625h0M1488 490h0M985 482h0M1206 390h0M1434 953h0M1397 429h0M1267 1026h0M749 417h0M504 928h0M1286 692h0M1350 843h0M698 724h0M1241 942h0M654 616h0M967 690h0M1696 641h0M1346 670h0M808 826h0M1113 550h0M1005 788h0M1068 627h0M1411 686h0M1072 978h0M1382 603h0M1376 689h0M1120 362h0M1346 651h0M1390 535h0M1324 532h0M1699 628h0M545 685h0M804 613h0M1040 645h0M814 773h0M1238 925h0M465 940h0M1010 895h0M1249 585h0M1177 408h0M397 989h0M1152 604h0M1004 244h0M942 402h0M928 420h0M469 949h0M1235 739h0M1457 760h0M295 823h0M1271 658h0M1110 620h0M826 635h0M968 402h0M469 564h0M1373 534h0M1318 437h0M1249 631h0M1227 627h0M1621 746h0M905 1108h0M1041 721h0M1326 933h0M1231 1014h0M1091 967h0M1393 979h0M630 500h0M887 633h0M1255 952h0M1617 740h0M974 491h0M1477 788h0M1219 596h0M607 729h0M1260 436h0M408 963h0M857 753h0M1194 957h0M503 663h0M1158 987h0M1584 560h0M1559 512h0M801 455h0M856 1115h0M784 692h0M1031 580h0M552 893h0M967 526h0M1256 970h0M1605 534h0M784 285h0M1447 770h0M1263 614h0M923 895h0M1284 566h0M1413 651h0M1691 590h0M1081 959h0M1344 1006h0M1193 526h0M1218 787h0M1602 742h0M1164 743h0M1322 537h0M1074 711h0M1349 549h0M1062 563h0M1217 633h0M1534 829h0M1154 580h0M1501 949h0M708 546h0M1097 439h0M853 828h0M1046 1031h0M1335 491h0M1398 454h0M1256 748h0M1231 454h0M785 374h0M1594 749h0M1319 631h0M1180 377h0M929 576h0M1378 721h0M1104 445h0M1263 756h0M1083 284h0M1234 550h0M1069 979h0M743 648h0M1692 693h0M1143 632h0M1244 1004h0M1470 459h0M837 592h0M917 1048h0M1142 705h0M791 257h0M1166 641h0M746 577h0M1334 941h0M1270 697h0M1079 965h0M1188 777h0M915 530h0M969 788h0M1392 558h0M1122 411h0M1337 964h0M600 597h0M1211 886h0M831 548h0M648 461h0M1696 696h0M522 980h0M842 621h0M567 732h0M1420 550h0M1156 640h0M1235 640h0M1262 368h0M1032 896h0M946 665h0M1216 656h0M1334 446h0M739 873h0M637 447h0M539 676h0M1099 593h0M835 833h0M418 902h0M1003 723h0M1410 548h0M1228 511h0M949 735h0M974 813h0M674 709h0M838 562h0M399 999h0M729 430h0M1518 724h0M1477 477h0M1544 559h0M1157 650h0M891 1125h0M1147 644h0M1550 718h0M1452 858h0M1429 925h0M1222 429h0M902 1112h0M1113 732h0M1183 441h0M1112 746h0M1334 396h0M1029 431h0M1210 516h0M1091 697h0M1526 865h0M1388 629h0M835 450h0M1183 391h0M1489 499h0M1496 476h0M1206 921h0M1136 405h0M908 594h0M490 515h0M990 799h0M1220 967h0M1112 713h0M1209 493h0M374 965h0M526 965h0M959 744h0M1439 921h0M996 667h0M868 1127h0M1174 474h0M1649 709h0M426 934h0M646 305h0M876 721h0M1263 682h0M1034 1141h0M1181 946h0M1523 482h0M956 924h0M824 581h0M1151 415h0M1140 396h0M755 634h0M922 717h0M1263 883h0M1054 667h0M1162 957h0M1320 549h0M1286 969h0M1230 577h0M1573 438h0M1072 531h0M1026 397h0M1065 957h0M1294 764h0M1241 519h0M754 869h0M1322 897h0M1394 536h0M1549 490h0M1259 880h0M413 975h0M1319 901h0M1308 579h0M1042 975h0M1446 567h0M822 443h0M1301 909h0M888 778h0M1447 782h0M1370 973h0M1278 1021h0M1438 523h0M716 599h0M1326 735h0M1226 972h0M1639 584h0M396 890h0M1032 767h0M1506 563h0M967 274h0M831 539h0M532 621h0M1394 630h0M781 452h0M1226 1014h0M1426 959h0M976 1110h0M1075 1032h0M1209 737h0M1625 759h0M1501 914h0M1565 501h0M1136 978h0M526 984h0M724 461h0M1558 824h0M1543 423h0M1417 849h0M576 748h0M1162 726h0M1431 675h0M411 939h0M1412 816h0M969 367h0M1534 843h0M1189 472h0M1693 648h0M1084 610h0M892 778h0M1333 588h0M1021 264h0M868 430h0M1593 785h0M1177 430h0M1295 600h0M711 381h0M1139 691h0M942 576h0M898 520h0M935 230h0M1545 511h0M707 778h0M1016 477h0M1237 365h0M1363 515h0M1079 350h0M603 962h0M1058 453h0M1158 790h0M1237 582h0M1041 630h0M1212 994h0M1031 679h0M1249 624h0M743 701h0M815 468h0M1296 674h0M1217 546h0M1380 1012h0M1239 1026h0M557 473h0M1065 753h0M1109 338h0M820 704h0M1483 800h0M553 949h0M1448 600h0M1504 511h0M926 494h0M1293 588h0M1213 594h0M1219 459h0M1513 500h0M1012 740h0M1308 622h0M539 593h0M918 544h0"/>
<path stroke="#bf3a76" d="M847 952h0M382 980h0M1402 970h0M1397 1024h0M1300 578h0M1470 953h0M1370 1008h0M654 818h0M621 625h0M529 602h0M1292 699h0M1360 617h0M672 300h0M1073 636h0M732 539h0M637 721h0"/>
<path stroke="#401072" d="M949 777h0M1430 519h0M408 968h0M1275 618h0M1337 467h0M1385 573h0M969 459h0M1203 495h0M772 1127h0M452 581h0M1210 585h0M968 738h0M814 781h0M1132 653h0M1315 596h0M570 604h0M565 665h0M1520 479h0M406 953h0M1342 688h0M1534 435h0M768 1147h0M993 444h0M1210 758h0M1405 682h0M665 550h0M1202 563h0M879 474h0M546 974h0M1213 653h0M1079 521h0M1299 530h0M1337 570h0M402 935h0M932 604h0M1386 513h0M855 398h0M658 525h0M543 980h0M792 1157h0M1184 711h0M831 723h0M829 436h0M1235 529h0M529 889h0M1334 523h0M1184 606h0M1112 498h0M815 1067h0M478 930h0"/>
<path stroke="#fa8864" d="M599 541h0M687 867h0M1400 1023h0M1172 955h0M722 291h0M472 588h0"/>
<path stroke="#210e4a" d="M1168 682h0M1048 586h0M1389 561h0"/>
<path stroke="#af347b" d="M1271 965h0M1435 693h0M457 543h0M712 956h0M620 745h0M634 953h0M724 1128h0M1428 853h0M1191 528h0M1311 536h0M520 730h0M1156 541h0M736 848h0M1327 509h0M852 679h0M949 899h0M1277 948h0M657 962h0M489 943h0M1374 635h0M1124 511h0M691 429h0M625 518h0M612 729h0M720 333h0M1154 707h0M393 1015h0"/>
<path stroke="#7e2481" d="M1442 833h0M716 696h0M797 1185h0M1174 647h0M778 632h0M612 522h0M1596 591h0M1295 967h0M786 1186h0M562 553h0M445 974h0M771 659h0M1355 689h0M769 268h0M802 809h0M754 293h0M512 925h0M559 564h0M382 1011h0M1215 534h0M610 540h0M924 837h0M594 602h0M1368 540h0M769 649h0M868 879h0M838 952h0M1537 838h0M1501 853h0M530 597h0M1122 468h0M1084 631h0"/>
<path stroke="#ce416f" d="M1088 977h0M447 1003h0M1401 899h0M568 780h0M581 822h0M863 845h0M1256 529h0M654 853h0M955 822h0M446 982h0M683 862h0M628 726h0M768 890h0M482 631h0M923 676h0M779 422h0M1317 1008h0M453 917h0M1373 1033h0M994 824h0M740 629h0M799 914h0"/>
<path stroke="#8e2a81" d="M471 663h0M1288 931h0M1327 939h0M968 975h0M1180 475h0M1047 1121h0M843 417h0M1383 984h0M734 800h0M621 738h0M1367 962h0M1159 719h0M1092 654h0M1373 1024h0M677 960h0M832 516h0M928 891h0M697 839h0M400 848h0M513 624h0M373 1018h0M775 888h0M1370 847h0M414 965h0M641 953h0M1277 557h0M1406 557h0M1176 561h0M1316 751h0M498 694h0M600 807h0M481 677h0M1224 573h0"/>
<path stroke="#f0665f" d="M947 827h0M691 304h0"/>
<path stroke="#dc4869" d="M426 910h0M1425 1009h0M625 526h0M930 896h0M799 906h0M1292 1012h0M634 837h0M1491 895h0M503 910h0M797 633h0M785 425h0M826 701h0M486 633h0M1148 567h0M843 683h0M1409 973h0"/>
<path stroke="#e75664" d="M1464 902h0M650 964h0M790 271h0M473 969h0M497 563h0M898 826h0"/>
<path stroke="#9e2f7e" d="M1155 570h0M793 630h0M1582 812h0M990 910h0M1045 893h0M1407 965h0M1426 920h0M736 315h0M1310 942h0M979 655h0M1150 661h0M1236 626h0M599 665h0M717 593h0M1213 745h0M1443 955h0M503 619h0M1385 735h0M801 283h0M727 700h0M475 951h0M1341 590h0M723 466h0M790 911h0M585 540h0M1045 1134h0M1439 901h0M1505 926h0M550 692h0M904 958h0M1178 911h0M1263 1029h0M1420 586h0"/>
<path stroke="#5f197e" d="M1496 825h0M731 580h0M439 578h0M784 1151h0M1213 515h0M743 671h0M554 705h0M1314 455h0M1132 413h0M642 429h0M1079 610h0M1653 702h0M1108 683h0M705 668h0M530 571h0M1208 747h0M1166 589h0M1121 690h0M549 551h0M1303 747h0M647 746h0M1095 712h0M1565 578h0M1472 421h0M529 493h0M1098 750h0M446 601h0M1369 956h0M1205 603h0M706 369h0M1113 659h0M1106 636h0M621 478h0M492 988h0M668 862h0M1557 590h0M375 1016h0M529 989h0M1697 646h0M736 653h0M1378 646h0M547 737h0M523 747h0M763 589h0M362 929h0M1601 491h0M1290 616h0M1057 788h0M1038 262h0M616 686h0M792 560h0M454 641h0M1574 561h0M1218 691h0M994 899h0M546 519h0M1030 1143h0"/>
<path stroke="#501478" d="M592 717h0M1358 661h0M1553 569h0M1339 514h0M1434 623h0M1010 521h0M548 494h0M892 247h0M797 522h0M1011 656h0M1411 565h0M1078 429h0M679 496h0M1145 500h0M662 433h0M486 929h0M440 967h0M801 676h0M583 503h0M586 486h0M786 1130h0M1220 752h0M917 1114h0M482 991h0M1310 612h0M542 706h0M421 877h0M1352 640h0M545 757h0M1265 507h0M486 969h0M1301 715h0M1112 695h0M484 644h0M1287 745h0M530 912h0M290 834h0M651 567h0M512 729h0M1321 456h0M1330 595h0M1118 610h0M452 911h0M1332 527h0M886 739h0M365 1011h0M348 986h0M1312 592h0M1130 727h0M592 485h0M1500 589h0M652 478h0M910 514h0M1692 699h0M1333 488h0M452 892h0M773 716h0M959 805h0M813 704h0M542 542h0M676 785h0M1153 511h0M767 541h0M1202 505h0M1388 502h0M540 871h0M716 562h0M633 494h0M614 440h0M949 489h0M483 647h0M1383 507h0M1394 493h0M897 448h0M1170 732h0M561 491h0M1353 643h0M1269 626h0M1258 566h0M728 718h0M1261 789h0M1156 631h0M1215 742h0M474 988h0M957 781h0"/>
<path stroke="#fcf4b6" d="M1385 1023h0"/>
<path stroke="#feac77" d="M656 846h0M1410 850h0"/>
<path stroke="#f8755e" d="M1394 1034h0M1470 930h0M638 837h0M994 818h0M732 307h0M1010 1123h0M1128 597h0M655 305h0M814 272h0"/>
<path stroke="#6f1e80" d="M765 664h0M1063 596h0M610 670h0M1607 741h0M1428 968h0M1045 727h0M471 643h0M430 915h0M1232 1003h0M566 518h0M340 943h0M1146 597h0M1005 1120h0M431 1012h0M592 750h0M1101 732h0M599 863h0M1031 981h0M1188 718h0M881 527h0M1440 616h0M1392 621h0M894 626h0M1590 565h0M1372 663h0M543 744h0M1139 711h0M467 635h0M709 665h0M1175 760h0M633 670h0M1175 444h0M846 642h0M1564 871h0M548 925h0M686 855h0M1431 863h0M350 877h0M798 537h0M854 480h0M1290 485h0"/>
<path stroke="#300f60" d="M391 938h0M1019 389h0M1458 771h0M759 400h0M619 440h0M669 618h0M1294 534h0M1316 422h0M563 881h0M903 233h0M1431 630h0M873 509h0M789 1127h0M1659 546h0M1369 513h0M358 905h0M1374 742h0M1042 608h0M1112 633h0M1364 570h0M972 237h0M1519 538h0M884 495h0M679 427h0M552 937h0M1115 536h0M856 577h0"/>
<path stroke="#fde2a5" d="M610 829h0"/>
<path stroke="#9e2f7e" d="M1354 1021h0M818 523h0M691 840h0M879 481h0M1277 626h0M449 612h0M1172 980h0M711 770h0M301 822h0M1628 744h0M800 682h0M522 676h0M452 565h0M627 587h0M1511 938h0M1359 646h0M1277 1005h0M645 674h0M1217 957h0M725 360h0M728 290h0M724 591h0M850 803h0M471 955h0M475 979h0M611 746h0M1640 749h0M1135 672h0M1178 607h0M461 922h0M684 434h0M787 1161h0M1246 677h0M826 847h0"/>
<path stroke="#6f1e80" d="M511 708h0M1376 432h0M747 647h0M749 738h0M1716 635h0M1384 600h0M1236 751h0M460 632h0M648 522h0M709 671h0M657 471h0M910 1060h0M480 955h0M656 582h0M1035 788h0M699 829h0M1330 971h0M1357 696h0M534 705h0M479 611h0M929 880h0M1036 970h0M734 385h0M478 559h0M864 894h0M563 472h0M1565 744h0M1276 772h0M911 588h0M1040 468h0M989 833h0M520 998h0M1472 978h0M709 835h0M880 841h0M1136 653h0M777 650h0M536 978h0M832 262h0M1205 645h0M916 1106h0M1137 674h0M712 338h0M1089 515h0M860 550h0M506 986h0M852 513h0M770 468h0"/>
<path stroke="#feac77" d="M1022 1132h0M1372 929h0M1004 1128h0"/>
<path stroke="#5f197e" d="M1243 528h0M743 371h0M1219 551h0M1144 545h0M801 795h0M439 1010h0M559 516h0M673 534h0M713 443h0M485 570h0M803 389h0M704 819h0M1184 676h0M575 522h0M938 896h0M1209 712h0M712 430h0M539 527h0M513 640h0M833 817h0M810 712h0M1256 507h0M469 604h0M1294 572h0M1010 1130h0M304 828h0M1256 752h0M555 554h0M1009 820h0M754 795h0M1372 657h0M1361 782h0M459 626h0M1180 693h0M1025 1124h0M1222 601h0M881 1062h0M938 243h0M616 783h0M753 603h0M793 458h0M1319 572h0M453 578h0M1283 501h0M1031 1122h0M1571 678h0M913 1062h0M1188 754h0M1048 688h0M687 469h0M1173 636h0M1387 623h0M946 833h0M579 772h0M1490 556h0M882 735h0M1228 497h0M1297 704h0M1076 580h0M1137 759h0M1629 521h0M738 962h0M547 526h0M1061 359h0M1313 751h0M478 999h0M1210 695h0M1254 542h0M1509 550h0M1182 765h0M755 759h0M839 683h0M1010 824h0M824 761h0M630 554h0M921 807h0M1461 458h0M1259 685h0M583 572h0"/>
<path stroke="#febe85" d="M651 314h0"/>
<path stroke="#af347b" d="M1014 983h0M1496 950h0M533 686h0M469 533h0M851 247h0M629 783h0M791 819h0M812 471h0M709 535h0M704 956h0M1315 948h0M1054 1133h0M371 1006h0M737 661h0M1026 1119h0M489 1006h0M720 318h0M767 827h0M776 348h0M1145 570h0M1231 902h0M765 295h0M878 235h0M732 311h0M757 465h0M793 828h0M487 593h0M645 313h0M484 662h0"/>
<path stroke="#ce416f" d="M699 656h0M531 625h0M653 828h0M608 758h0M1193 982h0M1076 693h0M1228 783h0M554 699h0M487 597h0M1624 756h0M664 321h0M425 963h0M962 914h0M448 627h0M747 699h0"/>
<path stroke="#7e2481" d="M572 661h0M631 788h0M1214 775h0M575 561h0M1389 692h0M764 584h0M1560 810h0M1621 733h0M373 919h0M591 776h0M1154 978h0M774 418h0M1372 683h0M1210 521h0M1247 1015h0M1397 584h0M884 956h0M1275 494h0M1525 842h0M1482 905h0M818 678h0M1326 973h0M730 1132h0M1356 694h0M762 774h0M837 806h0M863 958h0M1455 896h0M469 941h0M640 333h0M982 516h0M465 983h0M1442 996h0M1345 674h0M615 627h0M1219 627h0M974 418h0"/>
<path stroke="#fde2a5" d="M1446 912h0"/>
<path stroke="#bf3a76" d="M742 709h0M906 956h0M1286 882h0M954 962h0M1166 778h0M819 645h0M384 929h0M725 313h0M747 881h0M723 528h0M781 639h0M1213 500h0M446 887h0M1209 615h0M482 637h0M350 1014h0M1339 1030h0M547 536h0M830 663h0"/>
<path stroke="#fed194" d="M613 839h0"/>
<path stroke="#f0665f" d="M1233 1028h0M1617 768h0M703 322h0M474 664h0M499 553h0M704 833h0M585 693h0"/>
<path stroke="#e75664" d="M355 987h0M721 859h0M1255 886h0M730 329h0M1491 825h0M839 674h0"/>
<path stroke="#000004" d="M557 963h0M1405 515h0M1130 651h0M1135 388h0M854 500h0M1549 835h0M1471 554h0M859 516h0M1427 634h0M1299 1026h0M1349 558h0M1103 455h0M856 1127h0M304 861h0M848 779h0M1263 619h0M1118 993h0M1173 793h0M1163 712h0M1248 567h0M1239 740h0M665 412h0M1583 568h0M773 670h0M981 964h0M1538 509h0M664 642h0M874 597h0M1156 619h0M1084 531h0M1275 415h0M1398 592h0M1001 986h0M1323 388h0M1293 665h0M757 529h0M1194 615h0M739 409h0M1345 796h0M933 749h0M1065 690h0M1584 537h0M1507 407h0M1193 533h0M1152 570h0M634 961h0M846 1090h0M672 560h0M1228 1002h0M1041 802h0M1469 804h0M904 667h0M1387 666h0M1534 919h0M1059 467h0M1428 550h0M1334 730h0M997 784h0M1640 527h0M1294 494h0M629 562h0M862 1141h0M906 590h0M1093 360h0M1141 983h0M1146 577h0M920 404h0M788 1159h0M1245 531h0M1405 1000h0M651 473h0M1134 995h0M1230 1018h0M1408 982h0M728 341h0M855 954h0M1461 847h0M937 255h0M1121 440h0M1484 925h0M1110 522h0M1350 689h0M957 736h0M1537 698h0M1626 724h0M335 954h0M886 568h0M1507 544h0M1293 452h0M1288 477h0M1027 373h0M1248 490h0M1102 571h0M788 306h0M1533 446h0M733 423h0M666 504h0M1306 614h0M856 507h0M824 574h0M1136 667h0M1229 477h0M1261 389h0M1315 626h0M1501 524h0M1158 1004h0M1107 712h0M1077 439h0M1111 678h0M1360 411h0M1227 636h0M1275 751h0M1416 690h0M857 1108h0M489 953h0M986 1108h0M925 253h0M1147 480h0M1163 755h0M1567 437h0M1105 674h0M790 1154h0M1415 891h0M592 514h0M1241 1029h0M846 574h0M824 692h0M1463 752h0M1178 721h0M967 549h0M489 886h0M499 667h0M907 723h0M1108 658h0M912 564h0M463 897h0M1236 807h0M753 484h0M1211 1024h0M497 607h0M981 1131h0M1110 550h0M1056 595h0M1168 648h0M783 503h0M1287 425h0M1105 957h0M1074 633h0M979 255h0M1164 691h0M535 577h0M1579 549h0M1077 419h0M408 1007h0M1569 762h0M784 897h0M429 901h0M1545 831h0M1404 989h0M1142 515h0M786 528h0M1519 483h0M472 671h0M1584 592h0M1468 634h0M981 743h0M1299 732h0M1437 540h0M1248 549h0M1396 524h0M813 692h0M1169 551h0M643 441h0M1072 376h0M1283 628h0M1207 379h0M1336 584h0M1007 984h0M653 664h0M801 1150h0M1360 558h0M1318 538h0M1184 1013h0M1444 812h0M1095 572h0M1613 752h0M1708 669h0M981 501h0M1322 460h0M1152 403h0M710 839h0M997 767h0M949 351h0M1138 744h0M868 800h0M1138 359h0M870 963h0M869 247h0M1067 459h0M1123 758h0M695 842h0M1219 1003h0M823 677h0M1343 690h0M638 800h0M887 668h0M1410 925h0M1248 756h0M786 793h0M935 686h0M1256 941h0M1454 780h0M1710 622h0M858 532h0M1455 965h0M944 530h0M1605 790h0M1233 631h0M1280 402h0M727 407h0M1461 585h0M1037 370h0M1617 727h0M1321 684h0M792 1175h0M1001 656h0M873 262h0M1050 466h0M1297 583h0M749 556h0M1692 706h0M1145 561h0M1118 576h0M784 644h0M1425 868h0M1217 671h0M699 661h0M1136 750h0M650 555h0M1545 864h0M1203 694h0M1208 449h0M387 908h0M1025 985h0M1241 618h0M1061 741h0M1436 927h0M1198 513h0M1502 741h0M1318 675h0M1309 581h0M930 260h0M1074 690h0M1156 736h0M1493 464h0M1327 453h0M1363 710h0M740 855h0M990 755h0M1327 617h0M645 455h0M1097 707h0M579 616h0M1082 639h0M1267 379h0M900 1108h0M1017 705h0M670 717h0M1068 633h0M1513 426h0M844 914h0M1275 587h0M1176 1008h0M688 618h0M778 611h0M1110 578h0M875 1121h0M1662 595h0M901 653h0M1168 632h0M1348 952h0M1269 1009h0M917 426h0M847 806h0M1000 828h0M1538 549h0M1234 602h0M1572 576h0M1300 702h0M1420 815h0M1375 440h0M960 373h0M1169 697h0M980 430h0M1093 632h0M1100 699h0M1258 526h0M1170 767h0M924 377h0M662 682h0M458 579h0M1383 591h0M1356 526h0M1372 692h0M1435 558h0M837 727h0M876 494h0M1021 431h0M1619 718h0M686 964h0M1343 964h0M1196 646h0M938 516h0M1157 688h0M778 897h0M458 958h0M927 601h0M1053 1117h0M1261 552h0M482 975h0M1569 594h0M1544 783h0M1018 756h0M1485 627h0M1366 713h0M1375 945h0M771 495h0M1297 931h0M854 626h0M1083 462h0M798 1162h0M415 961h0M1156 552h0M666 593h0M1349 605h0M1694 630h0M1138 477h0M945 818h0M928 965h0M969 411h0M1177 978h0M1281 514h0M994 525h0M1095 725h0M957 300h0M363 922h0M1225 404h0M682 493h0M1232 376h0M1380 499h0M1264 523h0M1398 1018h0M1185 1017h0M1171 569h0M1219 439h0M585 555h0M1071 557h0M1195 739h0M949 233h0M940 451h0M1105 469h0M846 947h0M554 528h0M1376 847h0M1572 813h0M1033 964h0M1387 416h0M1380 463h0M886 248h0M883 449h0M1498 871h0M422 979h0M825 455h0M854 695h0M1097 647h0M928 709h0M1093 983h0M1396 829h0M664 569h0M483 568h0M992 237h0M1138 391h0M1199 625h0M610 495h0M1314 513h0M1182 459h0M1689 614h0M1278 1008h0M1023 317h0M1144 552h0M1076 292h0M639 311h0M1086 371h0M1662 553h0M869 1120h0M1301 402h0M1086 459h0M1484 507h0M621 564h0M1190 1017h0M1087 419h0M1168 710h0M1003 821h0M1250 760h0M1269 959h0M355 995h0M1141 660h0M1227 670h0M1010 980h0M1092 756h0M1261 578h0M914 779h0M1150 734h0M811 488h0M860 590h0M1002 260h0M1530 878h0M841 259h0M1350 647h0M1351 535h0M1642 710h0M1684 684h0M1524 932h0M332 917h0M740 302h0M1121 552h0M1267 503h0M1149 493h0M1063 966h0M1239 436h0M1264 414h0M1449 959h0M1216 385h0M772 412h0M716 498h0M1516 714h0M1171 409h0M1536 873h0M1164 352h0M1379 416h0M849 252h0M1105 739h0M1038 1035h0M978 436h0M1031 404h0M1344 394h0M788 583h0M1135 642h0M919 409h0M753 612h0M1088 429h0M905 499h0M1322 626h0M1578 512h0M1528 825h0M664 482h0M1047 460h0M1180 697h0M960 419h0M1024 441h0M1399 847h0M984 625h0M1105 964h0M1422 723h0M1046 776h0M1223 514h0M1429 538h0M636 821h0M1468 479h0M1309 540h0M1045 651h0M1050 506h0M588 714h0M1143 584h0M1497 608h0M531 511h0M948 704h0M1100 984h0M1409 884h0M765 333h0M1354 418h0M1512 591h0M973 254h0M1463 438h0M1504 533h0M1215 427h0M1302 420h0M655 705h0M960 237h0M987 567h0M1644 705h0M1185 509h0M1208 767h0M796 1163h0M803 603h0M717 617h0M602 738h0M1174 951h0M1315 685h0M1228 620h0M1446 954h0M1317 535h0M1294 697h0M1238 505h0M1120 712h0M1123 605h0M1207 464h0M1256 502h0M1410 878h0M446 913h0M980 407h0M431 995h0M1364 864h0M1635 578h0M1609 509h0M1498 813h0M859 1121h0M1553 563h0M1011 417h0M1051 1088h0M895 967h0M1022 759h0M1342 711h0M1333 664h0M908 532h0M829 1071h0M974 479h0M875 643h0M993 260h0M1012 897h0M1136 945h0M1491 490h0M1193 940h0M1355 448h0M1480 716h0M1443 775h0M894 1119h0M1062 663h0M968 470h0M456 657h0M1068 558h0M1623 697h0M1219 804h0M898 1138h0M1133 765h0M1330 570h0M1164 683h0M1232 533h0M1221 651h0M918 645h0M985 833h0M1066 538h0M1369 551h0M1330 598h0M781 1133h0M1307 521h0M1568 732h0M1256 519h0M660 626h0M761 1156h0M1545 552h0M1095 729h0M891 259h0M1466 865h0M1502 409h0M966 748h0M1585 797h0M1170 565h0M921 503h0M1259 649h0M1381 704h0M793 568h0M727 534h0M1200 684h0M1110 611h0M1195 661h0M555 715h0M1134 784h0M687 652h0M1499 531h0M641 434h0M766 1163h0M881 238h0M1079 333h0"/>
<path stroke="#300f60" d="M1372 715h0M505 666h0M664 721h0M525 739h0M1105 1081h0M1144 423h0M1376 630h0M1095 614h0M951 590h0M1385 703h0M1012 761h0M1434 521h0M867 600h0M1407 602h0M493 941h0M733 778h0M739 397h0M324 917h0M745 431h0M929 461h0M1518 430h0M1504 809h0M1417 695h0M828 642h0"/>
<path stroke="#401072" d="M499 655h0M1060 553h0M1058 725h0M753 436h0M696 686h0M605 593h0M674 522h0M982 754h0M1267 520h0M373 884h0M1576 477h0M351 916h0M504 589h0M1216 515h0M858 594h0M1627 530h0M949 724h0M786 701h0M933 241h0M939 759h0M1288 371h0M975 240h0M849 503h0M425 1005h0M824 750h0M1114 527h0M1294 501h0M776 698h0M480 877h0M807 745h0M1313 616h0M1383 729h0M1247 379h0M1076 780h0M826 654h0M1393 515h0M944 723h0M1433 715h0M1434 660h0M540 936h0M1190 713h0M555 639h0M823 283h0M1192 710h0M1433 627h0M1104 525h0M1168 675h0M1380 623h0M1446 631h0M1334 576h0M717 423h0M441 913h0M1691 581h0M1142 504h0"/>
<path stroke="#fcf4b6" d="M697 323h0"/>
<path stroke="#f8755e" d="M672 963h0M570 748h0M1018 887h0M1125 942h0M662 304h0M378 1017h0"/>
<path stroke="#210e4a" d="M808 1148h0M1050 398h0M1189 521h0M671 597h0M1209 671h0"/>
<path stroke="#dc4869" d="M834 689h0M1437 849h0M931 893h0M1441 889h0M832 881h0M437 918h0M1296 954h0M453 590h0M462 584h0M889 958h0M1364 907h0M823 646h0M984 837h0M1030 894h0"/>
<path stroke="#fa8864" d="M1302 890h0M726 326h0"/>
<path stroke="#501478" d="M1355 618h0M1558 553h0M1091 734h0M743 568h0M1583 448h0M1718 665h0M1040 1119h0M1228 417h0M1283 746h0M518 647h0M759 631h0M1046 757h0M1254 512h0M1264 546h0M374 893h0M1163 703h0M935 1133h0M420 865h0M631 737h0M1513 634h0M1558 808h0M1188 354h0M545 878h0M631 649h0M1165 603h0M1280 749h0M1485 520h0M530 915h0M736 646h0M1658 582h0M476 535h0M1125 631h0M1364 596h0M1062 475h0M1581 584h0M301 829h0M1414 571h0M1355 541h0M1124 731h0M998 252h0M588 545h0M1216 750h0M1571 478h0M590 472h0M787 285h0M1110 547h0M1064 748h0M520 917h0M1362 384h0M1250 531h0M1153 715h0M770 473h0M634 539h0M1509 439h0M587 801h0M1116 652h0M568 533h0M776 802h0M518 965h0"/>
<path stroke="#fd9a6b" d="M705 645h0M674 966h0M678 314h0M1388 1019h0M697 973h0M955 966h0M1207 987h0"/>
<path stroke="#8e2a81" d="M806 635h0M1011 972h0M1178 918h0M470 874h0M1399 817h0M711 627h0M1282 728h0M1387 887h0M778 1182h0M460 992h0M836 685h0M776 968h0M348 963h0M658 453h0M1166 562h0M1684 697h0M1509 850h0M488 961h0M749 620h0M864 880h0M350 899h0M707 653h0M1421 528h0M1404 867h0M1126 967h0M855 1130h0M1454 852h0M895 231h0M1184 966h0M675 472h0M1130 891h0M1029 251h0M718 860h0M1411 772h0M1282 685h0M1362 566h0"/>
<path stroke="#fa8864" d="M694 953h0M765 882h0M866 830h0"/>
<path stroke="#5f197e" d="M433 963h0M576 548h0M700 422h0M457 893h0M1233 757h0M727 674h0M1028 1145h0M684 585h0M1367 859h0M685 820h0M1055 514h0M1168 569h0M785 398h0M1164 675h0M757 478h0M774 542h0M470 540h0M386 965h0M1183 557h0M809 636h0M775 1159h0M1262 904h0M1156 740h0M673 971h0M711 633h0M697 643h0M1319 614h0M773 1162h0M498 937h0M1271 588h0M1162 980h0M1368 943h0M340 988h0M655 448h0M478 604h0M1200 423h0M672 586h0M1552 879h0M450 946h0M818 820h0M442 626h0M600 725h0M1101 550h0M1003 979h0M812 635h0M1266 605h0M775 678h0M1496 480h0M759 1172h0M407 930h0M630 763h0M950 811h0M1199 558h0M1553 832h0M1099 521h0"/>
<path stroke="#af347b" d="M1276 544h0M976 974h0M881 822h0M811 825h0M785 616h0M1324 561h0M1215 647h0M801 1181h0M1014 1115h0M915 1065h0M596 823h0M712 679h0M816 686h0M441 562h0M1072 752h0M518 705h0M619 779h0M634 937h0M1140 969h0M841 664h0M1059 965h0M794 661h0M405 868h0M1259 1026h0M791 682h0M653 954h0M851 243h0M752 447h0"/>
<path stroke="#f8755e" d="M497 582h0M1328 991h0M496 1008h0M805 263h0M1265 997h0M1305 982h0M708 972h0"/>
<path stroke="#febe85" d="M619 960h0M1354 878h0"/>
<path stroke="#9e2f7e" d="M869 892h0M711 323h0M1014 960h0M642 841h0M752 609h0M1488 954h0M1279 964h0M1195 606h0M607 918h0M812 820h0M1316 681h0M357 892h0M1331 507h0M764 456h0M434 922h0M596 751h0M1170 666h0M1550 567h0"/>
<path stroke="#feac77" d="M560 734h0"/>
<path stroke="#fcf4b6" d="M510 562h0M688 320h0"/>
<path stroke="#8e2a81" d="M508 708h0M933 891h0M712 456h0M775 343h0M602 564h0M782 444h0M733 290h0M618 807h0M1070 776h0M1146 969h0M1148 695h0M1275 651h0M1067 715h0M614 485h0M707 639h0M1320 873h0M1311 573h0M766 529h0M455 609h0M850 331h0M983 730h0M1617 585h0M659 464h0M1243 455h0M1355 935h0M624 634h0M812 686h0M1228 684h0"/>
<path stroke="#7e2481" d="M1281 757h0M777 266h0M795 620h0M1179 718h0M495 697h0M591 675h0M687 902h0M1407 855h0M669 831h0M1394 581h0M1080 602h0M669 846h0M976 234h0M384 1018h0M744 477h0M1148 618h0M1237 535h0M1000 273h0M650 559h0M972 579h0M1483 983h0M1360 904h0M1292 531h0M478 656h0M456 572h0M1172 619h0M594 533h0M915 686h0M1286 1010h0M1432 620h0M1313 534h0M799 697h0M536 544h0M736 572h0M289 837h0M1106 509h0M831 940h0M815 696h0M695 448h0M1388 906h0M1222 604h0M964 926h0M728 305h0M957 974h0M1426 943h0"/>
<path stroke="#000004" d="M910 577h0M331 909h0M387 876h0M1015 247h0M1589 781h0M684 557h0M1074 547h0M1000 254h0M1050 1116h0M1182 408h0M1393 476h0M498 922h0M1509 866h0M1548 590h0M546 578h0M861 651h0M1386 914h0M1624 547h0M664 703h0M944 250h0M728 858h0M1338 588h0M1029 419h0M895 681h0M1628 563h0M931 755h0M1377 614h0M653 737h0M661 441h0M802 426h0M1176 937h0M1275 997h0M868 359h0M810 459h0M1239 393h0M1159 548h0M756 898h0M1491 806h0M1356 588h0M1362 664h0M1015 977h0M1141 719h0M1402 684h0M398 904h0M1238 968h0M1423 738h0M1253 709h0M1273 926h0M1011 671h0M786 495h0M734 594h0M1323 724h0M605 705h0M381 896h0M974 473h0M944 730h0M1288 549h0M896 321h0M1182 775h0M1282 981h0M832 453h0M1303 626h0M1194 692h0M709 830h0M928 546h0M1249 642h0M1288 1024h0M1342 998h0M856 808h0M1140 626h0M1537 878h0M988 713h0M583 772h0M1016 613h0M1134 973h0M1336 862h0M939 617h0M1463 783h0M1032 1137h0M1295 562h0M771 369h0M612 688h0M1505 848h0M1434 502h0M913 507h0M1147 647h0M1572 824h0M918 433h0M1592 766h0M1191 389h0M1503 834h0M985 629h0M1186 597h0M1348 696h0M1006 285h0M899 232h0M989 278h0M862 638h0M853 608h0M863 555h0M1302 691h0M1223 442h0M1228 1005h0M1597 798h0M850 814h0M1062 735h0M1046 494h0M708 643h0M660 915h0M1232 636h0M662 426h0M712 572h0M1405 637h0M539 874h0M1241 641h0M888 512h0M640 438h0M1099 688h0M1377 531h0M1012 258h0M873 618h0M1368 612h0M915 487h0M1042 248h0M1216 1006h0M1024 799h0M1452 417h0M1120 708h0M948 237h0M1434 534h0M971 257h0M1368 478h0M1087 668h0M1032 890h0M535 552h0M1519 814h0M1019 250h0M815 640h0M1057 383h0M537 714h0M701 840h0M990 1112h0M398 981h0M885 1131h0M606 586h0M1235 373h0M912 1043h0M1412 428h0M1224 713h0M532 697h0M539 929h0M1303 655h0M859 835h0M1113 587h0M495 586h0M385 866h0M1119 425h0M805 587h0M1043 526h0M769 385h0M974 244h0M893 377h0M668 721h0M916 677h0M1204 741h0M1329 630h0M1115 758h0M1441 679h0M1242 723h0M601 948h0M1193 697h0M653 674h0M1325 556h0M1120 614h0M1331 1018h0M720 818h0M1253 459h0M1203 647h0M884 719h0M669 452h0M1362 751h0M1414 655h0M1526 455h0M930 885h0M1154 633h0M848 491h0M857 622h0M1582 807h0M830 943h0M1097 621h0M1187 960h0M1578 774h0M1258 681h0M1270 479h0M400 993h0M953 641h0M1479 778h0M706 411h0M1487 571h0M743 636h0M1305 925h0M1357 896h0M1676 693h0M1247 513h0M870 1097h0M1476 972h0M456 1008h0M1307 460h0M1079 975h0M936 762h0M991 449h0M1370 506h0M798 640h0M1078 397h0M302 802h0M1230 536h0M1330 606h0M1228 696h0M1297 876h0M694 845h0M894 962h0M1465 831h0M876 266h0M1124 534h0M1119 464h0M1302 663h0M1643 579h0M1215 999h0M1241 976h0M852 362h0M1628 568h0M1210 941h0M1041 1058h0M1065 355h0M688 747h0M1641 556h0M1024 685h0M1167 953h0M1382 633h0M1387 393h0M1464 431h0M1440 664h0M1111 927h0M444 952h0M1365 979h0M1205 701h0M750 355h0M1382 827h0M1262 875h0M1058 1127h0M723 691h0M560 478h0M1135 461h0M1045 887h0M1555 445h0M590 684h0M1395 443h0M1436 571h0M1601 579h0M962 342h0M1413 931h0M1105 665h0M1217 1002h0M1258 997h0M499 879h0M1294 737h0M1309 1023h0M1378 589h0M857 254h0M1138 573h0M1442 587h0M1349 623h0M1516 833h0M1365 494h0M1169 358h0M707 423h0M1462 926h0M860 832h0M909 384h0M980 705h0M1023 894h0M1481 500h0M1500 904h0M784 705h0M995 369h0M1699 656h0M1270 564h0M1116 699h0M1142 772h0M663 658h0M1352 861h0M621 490h0M1236 451h0M1189 690h0M1605 779h0M1392 577h0M539 514h0M1474 877h0M1314 645h0M1268 944h0M1105 704h0M1423 670h0M778 544h0M665 647h0M1330 538h0M1502 956h0M1613 502h0M654 859h0M400 979h0M1528 420h0M1430 639h0M1283 950h0M1041 424h0M1181 502h0M550 578h0M1281 874h0M1149 782h0M1716 648h0M450 955h0M1577 515h0M1099 943h0M1196 762h0M1384 614h0M1592 553h0M929 828h0M1253 994h0M1265 533h0M1310 498h0M1010 406h0M1188 498h0M777 662h0M1184 637h0M1421 983h0M631 469h0M1007 720h0M1464 745h0M1618 538h0M775 380h0M1001 523h0M1192 986h0M974 451h0M699 733h0M306 826h0M1145 711h0M1027 615h0M1373 622h0M1532 431h0M1351 707h0M1103 348h0M474 651h0M1367 563h0M942 599h0M1004 492h0M1091 972h0M1608 512h0M1020 811h0M619 512h0M1074 1096h0M1223 742h0M1277 643h0M846 252h0M1642 629h0M416 980h0M1306 443h0M1490 918h0M938 971h0M787 333h0M584 628h0M1550 552h0M1342 622h0M1121 972h0M922 442h0M1089 707h0M795 411h0M1036 288h0M883 834h0M954 647h0M1307 903h0M1481 868h0M955 243h0M1502 930h0M1200 995h0M336 906h0M675 779h0M1358 680h0M872 422h0M1070 561h0M1483 438h0M1421 1003h0M1371 768h0M1379 922h0M839 1021h0M1306 917h0M998 449h0M760 587h0M1230 891h0M501 875h0M875 550h0M980 639h0M614 560h0M1069 453h0M688 433h0M1330 1031h0M698 510h0M955 586h0M1050 510h0M1479 541h0M1410 562h0M1208 684h0M867 1138h0M918 671h0M806 555h0M759 301h0M449 608h0M1421 605h0M737 486h0M484 605h0M832 494h0M1076 969h0M1161 899h0M1092 944h0M417 997h0M1304 752h0M1266 673h0M893 1144h0M1224 472h0M1123 483h0M767 1173h0M517 897h0M1515 578h0M1230 412h0M1121 602h0M750 1110h0M888 1118h0M855 701h0M1437 593h0M1644 718h0M916 789h0M871 795h0M1289 735h0M1400 509h0M1422 859h0M1456 405h0M1175 965h0M1366 517h0M1597 469h0M1345 962h0M1350 868h0M1398 973h0M1430 698h0M827 367h0M700 613h0M480 868h0M934 244h0M963 1106h0M1469 464h0M1470 442h0M1018 641h0M1167 915h0M1259 511h0M1048 658h0M871 251h0M1077 675h0M496 628h0M1538 865h0M1178 526h0M1178 622h0M1679 581h0M958 800h0M1328 650h0M706 446h0M541 739h0M340 915h0M885 839h0M459 546h0M666 448h0M1208 950h0M1178 639h0M1161 475h0M1211 919h0M944 899h0M810 310h0M1487 869h0M975 693h0M780 481h0M1356 531h0M1362 627h0M1205 410h0M697 460h0M1466 767h0M1331 915h0M775 574h0M1009 457h0M1351 546h0M558 727h0M833 604h0M1247 943h0M548 936h0M1254 1014h0M1164 503h0M1330 392h0M1288 561h0M1336 433h0M1239 656h0M1236 743h0M1288 991h0M665 696h0M1192 632h0M1399 481h0M843 563h0M1049 743h0M751 537h0M875 881h0M1171 712h0M1338 880h0M1467 943h0M1193 377h0M1296 979h0M946 443h0M1305 513h0M1266 951h0M689 786h0M786 580h0M824 403h0M952 651h0M955 746h0M1041 982h0M805 924h0M1367 586h0M771 1165h0M1457 994h0M739 862h0M970 357h0M1408 815h0M806 736h0M1049 431h0M621 970h0M998 559h0M1466 983h0M1157 501h0M1192 799h0M777 431h0M1258 962h0M1499 939h0M1225 610h0M458 873h0M1345 908h0M863 676h0M1416 619h0M1556 503h0M504 724h0M1389 955h0M1622 501h0M1057 704h0M957 263h0M1461 961h0M989 246h0M762 751h0M1633 516h0M920 732h0M1269 655h0M809 560h0M635 739h0M1089 442h0M745 458h0M1529 459h0M1029 790h0M1404 397h0M1539 513h0M931 801h0M534 875h0M1625 771h0M1364 625h0M561 763h0M1696 664h0M798 515h0M1243 881h0M1526 399h0M956 574h0M1399 491h0M1431 612h0M1406 619h0M1340 630h0M634 745h0M1107 948h0M859 502h0M1243 1035h0M333 976h0M1076 594h0M1231 899h0M1391 454h0M894 530h0M984 255h0M994 635h0M1693 635h0M1698 666h0M1474 519h0M1488 495h0M1392 930h0M513 535h0M706 690h0M1412 621h0M1338 854h0M927 685h0M952 624h0M1271 465h0"/>
<path stroke="#dc4869" d="M451 920h0M664 864h0M495 641h0M1049 790h0M1050 1141h0M490 570h0M1349 877h0M849 684h0M523 519h0M853 824h0M679 319h0M1422 953h0"/>
<path stroke="#e75664" d="M602 755h0M757 270h0M684 953h0M489 548h0M670 310h0M782 527h0M1265 486h0M1047 896h0M1457 845h0M567 704h0M458 877h0M795 636h0M1390 1029h0M1311 625h0"/>
<path stroke="#6f1e80" d="M463 888h0M374 869h0M1216 1022h0M1354 734h0M500 594h0M434 595h0M1176 741h0M1236 677h0M757 674h0M1499 841h0M570 507h0M863 764h0M1016 907h0M1224 593h0M522 718h0M873 1148h0M656 752h0M602 762h0M999 964h0M559 718h0M441 918h0M1188 490h0M1156 757h0M1298 619h0M867 580h0M514 585h0M487 610h0M388 913h0M1300 624h0M1712 590h0M1120 700h0M449 940h0M625 744h0M873 823h0M710 455h0M1260 675h0M772 692h0M541 532h0M1112 645h0M308 841h0M1081 778h0M1496 877h0"/>
<path stroke="#fed194" d="M706 313h0"/>
<path stroke="#300f60" d="M1021 700h0M1270 693h0M802 636h0M970 270h0M1190 587h0M561 780h0M775 775h0M1657 566h0M1118 602h0M1152 694h0M379 944h0M1126 525h0M1250 598h0M1315 620h0M1190 735h0M555 488h0M872 578h0M824 802h0M1078 388h0M1566 545h0M675 678h0M1073 469h0M608 528h0M1015 358h0M1395 507h0M1230 488h0M705 526h0M715 548h0M1165 549h0M1229 594h0M1403 435h0M1443 517h0M887 804h0"/>
<path stroke="#401072" d="M1202 738h0M1172 523h0M1571 434h0M1242 717h0M837 1082h0M374 970h0M1653 709h0M888 1124h0M482 936h0M677 602h0M961 554h0M1520 803h0M1131 572h0M748 411h0M1479 422h0M1697 651h0M792 1183h0M1189 709h0M1311 541h0M339 910h0M643 507h0M1372 719h0M1147 451h0M751 398h0M1350 449h0M1092 604h0M871 540h0M1387 387h0M1248 663h0M1205 509h0M769 795h0M1271 608h0M1568 707h0M1096 531h0M716 455h0M1310 559h0M1545 506h0M503 730h0M535 983h0M930 532h0M681 662h0M463 960h0M677 485h0M1418 599h0M1519 694h0M1340 498h0M1015 391h0M885 676h0M1202 601h0M1424 607h0M832 382h0"/>
<path stroke="#ce416f" d="M735 582h0M1361 946h0M865 865h0M643 855h0M737 664h0M1297 891h0M1413 988h0M738 298h0M750 429h0M764 645h0M770 499h0M877 885h0M486 895h0M878 791h0M549 682h0M764 622h0M978 909h0"/>
<path stroke="#210e4a" d="M460 892h0M595 681h0M980 442h0M817 530h0"/>
<path stroke="#501478" d="M1300 741h0M1427 660h0M404 1004h0M564 872h0M1289 539h0M727 564h0M744 1137h0M687 547h0M997 454h0M903 525h0M1083 513h0M1393 528h0M725 685h0M840 958h0M1376 840h0M1294 680h0M769 1177h0M476 935h0M995 791h0M1221 409h0M987 813h0M945 629h0M347 913h0M792 1179h0M1015 646h0M915 724h0M1087 378h0M588 696h0M1375 543h0M952 259h0M633 598h0M727 451h0M1205 639h0M879 254h0M590 806h0M1524 820h0M1185 746h0M751 630h0M1167 525h0M1029 412h0M1700 601h0M967 423h0M1264 648h0M1149 747h0M1395 579h0M697 528h0M998 752h0M1257 578h0M763 1139h0M1027 764h0M1303 725h0M824 743h0M1406 706h0M995 737h0M669 460h0M1575 495h0M1415 510h0M532 677h0M941 426h0M731 696h0M618 645h0M697 427h0M438 842h0M1289 697h0M1177 597h0M963 452h0M1091 531h0M1393 721h0M1077 613h0M778 1184h0M901 540h0M752 643h0M852 274h0M819 558h0M728 727h0M1273 645h0M804 1173h0M483 619h0"/>
<path stroke="#bf3a76" d="M1052 608h0M763 870h0M670 321h0M837 946h0M1314 986h0M508 732h0M500 569h0M720 308h0M538 639h0M718 631h0M667 321h0M1408 672h0M1242 917h0M443 601h0M1452 900h0"/>
<path stroke="#f0665f" d="M1379 1035h0M1317 861h0M680 868h0M658 309h0M1307 725h0M1397 986h0M632 846h0M643 767h0"/>
<path stroke="#fd9a6b" d="M513 618h0"/>
<path stroke="#fde2a5" d="M487 550h0"/>
</g>
<g stroke="#000" stroke-width="4.45" fill="none">
<path d="M205.5 142.7V1302.65M203.3 1302.65H1871.1"/>
<path d="M191 460.5H205.5M191 789.3H205.5M191 1118.1H205.5M469.6 1302.65V1317M942.3 1302.65V1317M1415 1302.65V1317"/>
</g>
<g font-size="50">
<text x="178" y="478.4" text-anchor="end" transform="translate(0 478.4) scale(1 1.04) translate(0 -478.4)">0</text><path d="M12.8 0V-25.8H4.9V-28.9C10-29.5 13-31.5 14.25-35.9H17V0Z" transform="translate(122.4 478.0)"/>
<text x="178" y="807.2" text-anchor="end" transform="translate(0 807.2) scale(1 1.04) translate(0 -807.2)">5</text>
<text x="178" y="1136" text-anchor="end" transform="translate(0 1136) scale(1 1.04) translate(0 -1136)">0</text>
<text x="469.6" y="1366.3" text-anchor="middle" transform="translate(0 1366.3) scale(1 1.04) translate(0 -1366.3)">0</text>
<text x="942.3" y="1366.3" text-anchor="middle" transform="translate(0 1366.3) scale(1 1.04) translate(0 -1366.3)">5</text>
<text x="1415" y="1366.3" transform="translate(0 1366.3) scale(1 1.04) translate(0 -1366.3)">0</text><path d="M12.8 0V-25.8H4.9V-28.9C10-29.5 13-31.5 14.25-35.9H17V0Z" transform="translate(1387.2 1365.9)"/>
<text x="2019" y="703.4" transform="translate(0 703.4) scale(1 1.04) translate(0 -703.4)">2</text>
<path d="M12.8 0V-25.8H4.9V-28.9C10-29.5 13-31.5 14.25-35.9H17V0Z" transform="translate(2019.6 809.3)"/>
<text x="2019" y="916.6" transform="translate(0 916.6) scale(1 1.04) translate(0 -916.6)">0</text>
</g>
<text x="920.7" y="1434.8" font-size="58.33" id="xl" transform="translate(0 1434.8) scale(1 1.04) translate(0 -1434.8)">UMAP_</text><path id="xl1" d="M12.8 0V-25.8H4.9V-28.9C10-29.5 13-31.5 14.25-35.9H17V0Z" transform="translate(1121.3 1434.8) scale(1.1667)"/>
<text transform="translate(95.1 722.7) rotate(-90) scale(1 1.04)" font-size="58.33" text-anchor="middle">UMAP_2</text>
<rect x="1927" y="578.3" width="63.8" height="319.6" fill="url(#mg)"/>
<path d="M1927 684.3h12.8M1978 684.3h12.8M1927 791h12.8M1978 791h12.8M1927 897.5h12.8M1978 897.5h12.8" stroke="#fff" stroke-width="1.6" fill="none"/>
</svg>
</body></html>
